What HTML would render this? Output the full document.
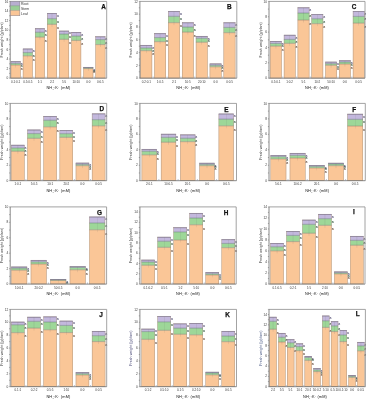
<!DOCTYPE html><html><head><meta charset="utf-8"><style>html,body{margin:0;padding:0;background:#fff;width:366px;height:400px;overflow:hidden}svg{display:block;will-change:transform}text{font-family:"Liberation Sans",sans-serif}</style></head><body>
<svg width="366" height="400" viewBox="0 0 366 400">
<rect width="366" height="400" fill="#fff"/>
<g><rect x="10.8" y="65" width="9.8" height="13.2" fill="#fac697"/><rect x="10.8" y="63.3" width="9.8" height="1.7" fill="#9dd798"/><rect x="10.8" y="61.3" width="9.8" height="2" fill="#c3b8dd"/><rect x="11" y="61.5" width="9.4" height="16.5" fill="none" stroke="#a89482" stroke-width="0.45"/><rect x="10.8" y="61.3" width="9.8" height="0.8" fill="#7f7896" opacity="0.75"/><rect x="10.8" y="62.8" width="9.8" height="1.1" fill="#6e7c82" opacity="0.5"/><rect x="10.8" y="64.5" width="9.8" height="1.1" fill="#8a7d6c" opacity="0.45"/><line x1="15.7" x2="15.7" y1="61.8" y2="67.5" stroke="#5a5a5a" stroke-width="0.35" opacity="0.35"/><text x="20.65" y="64.9" font-size="3.5" font-weight="bold" fill="#5e5a7e">a</text><text x="20.65" y="67.3" font-size="3.5" font-weight="bold" fill="#3e5e4a">a</text><text x="20.65" y="69.8" font-size="3.5" font-weight="bold" fill="#6a5040">a</text><rect x="22.9" y="55.8" width="9.8" height="22.4" fill="#fac697"/><rect x="22.9" y="52.5" width="9.8" height="3.3" fill="#9dd798"/><rect x="22.9" y="48.7" width="9.8" height="3.8" fill="#c3b8dd"/><rect x="23.1" y="48.9" width="9.4" height="29.1" fill="none" stroke="#a89482" stroke-width="0.45"/><rect x="22.9" y="48.7" width="9.8" height="0.8" fill="#7f7896" opacity="0.75"/><rect x="22.9" y="52" width="9.8" height="1.1" fill="#6e7c82" opacity="0.5"/><rect x="22.9" y="55.3" width="9.8" height="1.1" fill="#8a7d6c" opacity="0.45"/><line x1="27.8" x2="27.8" y1="49.2" y2="58.3" stroke="#5a5a5a" stroke-width="0.35" opacity="0.35"/><text x="32.75" y="52.3" font-size="3.5" font-weight="bold" fill="#5e5a7e">a</text><text x="32.75" y="56.5" font-size="3.5" font-weight="bold" fill="#3e5e4a">a</text><text x="32.75" y="60.6" font-size="3.5" font-weight="bold" fill="#6a5040">a</text><rect x="35" y="37.1" width="9.8" height="41.1" fill="#fac697"/><rect x="35" y="32.2" width="9.8" height="4.9" fill="#9dd798"/><rect x="35" y="28.4" width="9.8" height="3.8" fill="#c3b8dd"/><rect x="35.2" y="28.6" width="9.4" height="49.4" fill="none" stroke="#a89482" stroke-width="0.45"/><rect x="35" y="28.4" width="9.8" height="0.8" fill="#7f7896" opacity="0.75"/><rect x="35" y="31.7" width="9.8" height="1.1" fill="#6e7c82" opacity="0.5"/><rect x="35" y="36.6" width="9.8" height="1.1" fill="#8a7d6c" opacity="0.45"/><line x1="39.9" x2="39.9" y1="28.9" y2="39.6" stroke="#5a5a5a" stroke-width="0.35" opacity="0.35"/><text x="44.85" y="32" font-size="3.5" font-weight="bold" fill="#5e5a7e">a</text><text x="44.85" y="36.2" font-size="3.5" font-weight="bold" fill="#3e5e4a">a</text><text x="44.85" y="41.9" font-size="3.5" font-weight="bold" fill="#6a5040">a</text><rect x="47.1" y="24.3" width="9.8" height="53.9" fill="#fac697"/><rect x="47.1" y="18.6" width="9.8" height="5.7" fill="#9dd798"/><rect x="47.1" y="13.1" width="9.8" height="5.5" fill="#c3b8dd"/><rect x="47.3" y="13.3" width="9.4" height="64.7" fill="none" stroke="#a89482" stroke-width="0.45"/><rect x="47.1" y="13.1" width="9.8" height="0.8" fill="#7f7896" opacity="0.75"/><rect x="47.1" y="18.1" width="9.8" height="1.1" fill="#6e7c82" opacity="0.5"/><rect x="47.1" y="23.8" width="9.8" height="1.1" fill="#8a7d6c" opacity="0.45"/><line x1="52" x2="52" y1="13.6" y2="26.8" stroke="#5a5a5a" stroke-width="0.35" opacity="0.35"/><text x="56.95" y="16.7" font-size="3.5" font-weight="bold" fill="#5e5a7e">a</text><text x="56.95" y="22.6" font-size="3.5" font-weight="bold" fill="#3e5e4a">a</text><text x="56.95" y="29.1" font-size="3.5" font-weight="bold" fill="#6a5040">a</text><rect x="59.2" y="39.3" width="9.8" height="38.9" fill="#fac697"/><rect x="59.2" y="34" width="9.8" height="5.3" fill="#9dd798"/><rect x="59.2" y="30.8" width="9.8" height="3.2" fill="#c3b8dd"/><rect x="59.4" y="31" width="9.4" height="47" fill="none" stroke="#a89482" stroke-width="0.45"/><rect x="59.2" y="30.8" width="9.8" height="0.8" fill="#7f7896" opacity="0.75"/><rect x="59.2" y="33.5" width="9.8" height="1.1" fill="#6e7c82" opacity="0.5"/><rect x="59.2" y="38.8" width="9.8" height="1.1" fill="#8a7d6c" opacity="0.45"/><line x1="64.1" x2="64.1" y1="31.3" y2="41.8" stroke="#5a5a5a" stroke-width="0.35" opacity="0.35"/><text x="69.05" y="34.4" font-size="3.5" font-weight="bold" fill="#5e5a7e">a</text><text x="69.05" y="38" font-size="3.5" font-weight="bold" fill="#3e5e4a">a</text><text x="69.05" y="44.1" font-size="3.5" font-weight="bold" fill="#6a5040">a</text><rect x="71.3" y="40.4" width="9.8" height="37.8" fill="#fac697"/><rect x="71.3" y="36" width="9.8" height="4.4" fill="#9dd798"/><rect x="71.3" y="32.1" width="9.8" height="3.9" fill="#c3b8dd"/><rect x="71.5" y="32.3" width="9.4" height="45.7" fill="none" stroke="#a89482" stroke-width="0.45"/><rect x="71.3" y="32.1" width="9.8" height="0.8" fill="#7f7896" opacity="0.75"/><rect x="71.3" y="35.5" width="9.8" height="1.1" fill="#6e7c82" opacity="0.5"/><rect x="71.3" y="39.9" width="9.8" height="1.1" fill="#8a7d6c" opacity="0.45"/><line x1="76.2" x2="76.2" y1="32.6" y2="42.9" stroke="#5a5a5a" stroke-width="0.35" opacity="0.35"/><text x="81.15" y="35.7" font-size="3.5" font-weight="bold" fill="#5e5a7e">a</text><text x="81.15" y="40" font-size="3.5" font-weight="bold" fill="#3e5e4a">a</text><text x="81.15" y="45.2" font-size="3.5" font-weight="bold" fill="#6a5040">a</text><rect x="83.4" y="68.5" width="9.8" height="9.7" fill="#fac697"/><rect x="83.4" y="67.8" width="9.8" height="0.7" fill="#9dd798"/><rect x="83.4" y="67" width="9.8" height="0.8" fill="#c3b8dd"/><rect x="83.6" y="67.2" width="9.4" height="10.8" fill="none" stroke="#a89482" stroke-width="0.45"/><rect x="83.4" y="67" width="9.8" height="0.8" fill="#7f7896" opacity="0.75"/><rect x="83.4" y="67.3" width="9.8" height="1.1" fill="#6e7c82" opacity="0.5"/><rect x="83.4" y="68" width="9.8" height="1.1" fill="#8a7d6c" opacity="0.45"/><line x1="88.3" x2="88.3" y1="67.5" y2="71" stroke="#5a5a5a" stroke-width="0.35" opacity="0.35"/><text x="93.25" y="70.6" font-size="3.5" font-weight="bold" fill="#5e5a7e">a</text><text x="93.25" y="71.8" font-size="3.5" font-weight="bold" fill="#3e5e4a">a</text><text x="93.25" y="73.3" font-size="3.5" font-weight="bold" fill="#6a5040">a</text><rect x="95.5" y="44.5" width="9.8" height="33.7" fill="#fac697"/><rect x="95.5" y="39.5" width="9.8" height="5" fill="#9dd798"/><rect x="95.5" y="36.5" width="9.8" height="3" fill="#c3b8dd"/><rect x="95.7" y="36.7" width="9.4" height="41.3" fill="none" stroke="#a89482" stroke-width="0.45"/><rect x="95.5" y="36.5" width="9.8" height="0.8" fill="#7f7896" opacity="0.75"/><rect x="95.5" y="39" width="9.8" height="1.1" fill="#6e7c82" opacity="0.5"/><rect x="95.5" y="44" width="9.8" height="1.1" fill="#8a7d6c" opacity="0.45"/><line x1="100.4" x2="100.4" y1="37" y2="47" stroke="#5a5a5a" stroke-width="0.35" opacity="0.35"/><text x="105.35" y="40.1" font-size="3.5" font-weight="bold" fill="#5e5a7e">a</text><text x="105.35" y="43.5" font-size="3.5" font-weight="bold" fill="#3e5e4a">a</text><text x="105.35" y="49.3" font-size="3.5" font-weight="bold" fill="#6a5040">a</text><path d="M10.2,1.4H106.7V78.2" fill="none" stroke="#8c8c8c" stroke-width="0.8"/><path d="M10.2,1.4V78.2H106.7" fill="none" stroke="#6a6a6a" stroke-width="0.8"/><line x1="9.1" x2="10.2" y1="78.2" y2="78.2" stroke="#6a6a6a" stroke-width="0.5"/><text x="8.2" y="79.3" font-size="3.2" text-anchor="end" fill="#3a3a3a" font-family="Liberation Serif">0</text><line x1="9.1" x2="10.2" y1="73.4" y2="73.4" stroke="#6a6a6a" stroke-width="0.5"/><line x1="9.1" x2="10.2" y1="68.6" y2="68.6" stroke="#6a6a6a" stroke-width="0.5"/><text x="8.2" y="69.7" font-size="3.2" text-anchor="end" fill="#3a3a3a" font-family="Liberation Serif">2</text><line x1="9.1" x2="10.2" y1="63.8" y2="63.8" stroke="#6a6a6a" stroke-width="0.5"/><line x1="9.1" x2="10.2" y1="59" y2="59" stroke="#6a6a6a" stroke-width="0.5"/><text x="8.2" y="60.1" font-size="3.2" text-anchor="end" fill="#3a3a3a" font-family="Liberation Serif">4</text><line x1="9.1" x2="10.2" y1="54.2" y2="54.2" stroke="#6a6a6a" stroke-width="0.5"/><line x1="9.1" x2="10.2" y1="49.4" y2="49.4" stroke="#6a6a6a" stroke-width="0.5"/><text x="8.2" y="50.5" font-size="3.2" text-anchor="end" fill="#3a3a3a" font-family="Liberation Serif">6</text><line x1="9.1" x2="10.2" y1="44.6" y2="44.6" stroke="#6a6a6a" stroke-width="0.5"/><line x1="9.1" x2="10.2" y1="39.8" y2="39.8" stroke="#6a6a6a" stroke-width="0.5"/><text x="8.2" y="40.9" font-size="3.2" text-anchor="end" fill="#3a3a3a" font-family="Liberation Serif">8</text><line x1="9.1" x2="10.2" y1="35" y2="35" stroke="#6a6a6a" stroke-width="0.5"/><line x1="9.1" x2="10.2" y1="30.2" y2="30.2" stroke="#6a6a6a" stroke-width="0.5"/><text x="8.2" y="31.3" font-size="3.2" text-anchor="end" fill="#3a3a3a" font-family="Liberation Serif">10</text><line x1="9.1" x2="10.2" y1="25.4" y2="25.4" stroke="#6a6a6a" stroke-width="0.5"/><line x1="9.1" x2="10.2" y1="20.6" y2="20.6" stroke="#6a6a6a" stroke-width="0.5"/><text x="8.2" y="21.7" font-size="3.2" text-anchor="end" fill="#3a3a3a" font-family="Liberation Serif">12</text><line x1="9.1" x2="10.2" y1="15.8" y2="15.8" stroke="#6a6a6a" stroke-width="0.5"/><line x1="9.1" x2="10.2" y1="11" y2="11" stroke="#6a6a6a" stroke-width="0.5"/><text x="8.2" y="12.1" font-size="3.2" text-anchor="end" fill="#3a3a3a" font-family="Liberation Serif">14</text><line x1="9.1" x2="10.2" y1="6.2" y2="6.2" stroke="#6a6a6a" stroke-width="0.5"/><line x1="9.1" x2="10.2" y1="1.4" y2="1.4" stroke="#6a6a6a" stroke-width="0.5"/><text x="8.2" y="2.5" font-size="3.2" text-anchor="end" fill="#3a3a3a" font-family="Liberation Serif">16</text><line x1="21.75" x2="21.75" y1="76.6" y2="78.2" stroke="#8a96a8" stroke-width="0.6"/><line x1="33.85" x2="33.85" y1="76.6" y2="78.2" stroke="#8a96a8" stroke-width="0.6"/><line x1="45.95" x2="45.95" y1="76.6" y2="78.2" stroke="#8a96a8" stroke-width="0.6"/><line x1="58.05" x2="58.05" y1="76.6" y2="78.2" stroke="#8a96a8" stroke-width="0.6"/><line x1="70.15" x2="70.15" y1="76.6" y2="78.2" stroke="#8a96a8" stroke-width="0.6"/><line x1="82.25" x2="82.25" y1="76.6" y2="78.2" stroke="#8a96a8" stroke-width="0.6"/><line x1="94.35" x2="94.35" y1="76.6" y2="78.2" stroke="#8a96a8" stroke-width="0.6"/><text x="15.7" y="82.8" font-size="3" text-anchor="middle" fill="#333" font-family="Liberation Serif">0.1:0.1</text><text x="27.8" y="82.8" font-size="3" text-anchor="middle" fill="#333" font-family="Liberation Serif">0.5:0.5</text><text x="39.9" y="82.8" font-size="3" text-anchor="middle" fill="#333" font-family="Liberation Serif">1:1</text><text x="52" y="82.8" font-size="3" text-anchor="middle" fill="#333" font-family="Liberation Serif">2:2</text><text x="64.1" y="82.8" font-size="3" text-anchor="middle" fill="#333" font-family="Liberation Serif">5:5</text><text x="76.2" y="82.8" font-size="3" text-anchor="middle" fill="#333" font-family="Liberation Serif">10:10</text><text x="88.3" y="82.8" font-size="3" text-anchor="middle" fill="#333" font-family="Liberation Serif">0:0</text><text x="100.4" y="82.8" font-size="3" text-anchor="middle" fill="#333" font-family="Liberation Serif">0:0.5</text><text x="58.45" y="89.4" font-size="3.9" text-anchor="middle" fill="#222" letter-spacing="0.12" font-family="Liberation Serif">NH<tspan font-size="2.5" dy="0.9">4</tspan><tspan font-size="2.5" dx="-1.25" dy="-2.3">+</tspan><tspan dy="1.4">:K</tspan><tspan font-size="2.5" dy="-1.4">+</tspan><tspan dy="1.4"> (mM)</tspan></text><text transform="translate(2.7,39.8) rotate(-90)" font-size="3.65" text-anchor="middle" fill="#3a3a3a" font-family="Liberation Serif">Fresh weight (g/plant)</text><text x="103.5" y="9" font-size="6.4" font-weight="bold" text-anchor="middle" fill="#111" stroke="#111" stroke-width="0.25">A</text></g>
<g><rect x="140.4" y="50.6" width="11.7" height="27.6" fill="#fac697"/><rect x="140.4" y="47.9" width="11.7" height="2.7" fill="#9dd798"/><rect x="140.4" y="45" width="11.7" height="2.9" fill="#c3b8dd"/><rect x="140.6" y="45.2" width="11.3" height="32.8" fill="none" stroke="#a89482" stroke-width="0.45"/><rect x="140.4" y="45" width="11.7" height="0.8" fill="#7f7896" opacity="0.75"/><rect x="140.4" y="47.4" width="11.7" height="1.1" fill="#6e7c82" opacity="0.5"/><rect x="140.4" y="50.1" width="11.7" height="1.1" fill="#8a7d6c" opacity="0.45"/><line x1="146.25" x2="146.25" y1="45.5" y2="53.1" stroke="#5a5a5a" stroke-width="0.35" opacity="0.35"/><text x="152.15" y="48.6" font-size="3.5" font-weight="bold" fill="#5e5a7e">a</text><text x="152.15" y="51.9" font-size="3.5" font-weight="bold" fill="#3e5e4a">a</text><text x="152.15" y="55.4" font-size="3.5" font-weight="bold" fill="#6a5040">a</text><rect x="154.27" y="41.6" width="11.7" height="36.6" fill="#fac697"/><rect x="154.27" y="37.5" width="11.7" height="4.1" fill="#9dd798"/><rect x="154.27" y="33.3" width="11.7" height="4.2" fill="#c3b8dd"/><rect x="154.47" y="33.5" width="11.3" height="44.5" fill="none" stroke="#a89482" stroke-width="0.45"/><rect x="154.27" y="33.3" width="11.7" height="0.8" fill="#7f7896" opacity="0.75"/><rect x="154.27" y="37" width="11.7" height="1.1" fill="#6e7c82" opacity="0.5"/><rect x="154.27" y="41.1" width="11.7" height="1.1" fill="#8a7d6c" opacity="0.45"/><line x1="160.12" x2="160.12" y1="33.8" y2="44.1" stroke="#5a5a5a" stroke-width="0.35" opacity="0.35"/><text x="166.02" y="36.9" font-size="3.5" font-weight="bold" fill="#5e5a7e">a</text><text x="166.02" y="41.5" font-size="3.5" font-weight="bold" fill="#3e5e4a">a</text><text x="166.02" y="46.4" font-size="3.5" font-weight="bold" fill="#6a5040">a</text><rect x="168.14" y="22.6" width="11.7" height="55.6" fill="#fac697"/><rect x="168.14" y="16.3" width="11.7" height="6.3" fill="#9dd798"/><rect x="168.14" y="11.2" width="11.7" height="5.1" fill="#c3b8dd"/><rect x="168.34" y="11.4" width="11.3" height="66.6" fill="none" stroke="#a89482" stroke-width="0.45"/><rect x="168.14" y="11.2" width="11.7" height="0.8" fill="#7f7896" opacity="0.75"/><rect x="168.14" y="15.8" width="11.7" height="1.1" fill="#6e7c82" opacity="0.5"/><rect x="168.14" y="22.1" width="11.7" height="1.1" fill="#8a7d6c" opacity="0.45"/><line x1="173.99" x2="173.99" y1="11.7" y2="25.1" stroke="#5a5a5a" stroke-width="0.35" opacity="0.35"/><text x="179.89" y="14.8" font-size="3.5" font-weight="bold" fill="#5e5a7e">a</text><text x="179.89" y="20.3" font-size="3.5" font-weight="bold" fill="#3e5e4a">a</text><text x="179.89" y="27.4" font-size="3.5" font-weight="bold" fill="#6a5040">a</text><rect x="182.01" y="32.1" width="11.7" height="46.1" fill="#fac697"/><rect x="182.01" y="27" width="11.7" height="5.1" fill="#9dd798"/><rect x="182.01" y="22.5" width="11.7" height="4.5" fill="#c3b8dd"/><rect x="182.21" y="22.7" width="11.3" height="55.3" fill="none" stroke="#a89482" stroke-width="0.45"/><rect x="182.01" y="22.5" width="11.7" height="0.8" fill="#7f7896" opacity="0.75"/><rect x="182.01" y="26.5" width="11.7" height="1.1" fill="#6e7c82" opacity="0.5"/><rect x="182.01" y="31.6" width="11.7" height="1.1" fill="#8a7d6c" opacity="0.45"/><line x1="187.86" x2="187.86" y1="23" y2="34.6" stroke="#5a5a5a" stroke-width="0.35" opacity="0.35"/><text x="193.76" y="26.1" font-size="3.5" font-weight="bold" fill="#5e5a7e">a</text><text x="193.76" y="31" font-size="3.5" font-weight="bold" fill="#3e5e4a">a</text><text x="193.76" y="36.9" font-size="3.5" font-weight="bold" fill="#6a5040">a</text><rect x="195.88" y="42.2" width="11.7" height="36" fill="#fac697"/><rect x="195.88" y="38.2" width="11.7" height="4" fill="#9dd798"/><rect x="195.88" y="36" width="11.7" height="2.2" fill="#c3b8dd"/><rect x="196.08" y="36.2" width="11.3" height="41.8" fill="none" stroke="#a89482" stroke-width="0.45"/><rect x="195.88" y="36" width="11.7" height="0.8" fill="#7f7896" opacity="0.75"/><rect x="195.88" y="37.7" width="11.7" height="1.1" fill="#6e7c82" opacity="0.5"/><rect x="195.88" y="41.7" width="11.7" height="1.1" fill="#8a7d6c" opacity="0.45"/><line x1="201.73" x2="201.73" y1="36.5" y2="44.7" stroke="#5a5a5a" stroke-width="0.35" opacity="0.35"/><text x="207.63" y="39.6" font-size="3.5" font-weight="bold" fill="#5e5a7e">a</text><text x="207.63" y="42.2" font-size="3.5" font-weight="bold" fill="#3e5e4a">a</text><text x="207.63" y="47" font-size="3.5" font-weight="bold" fill="#6a5040">a</text><rect x="209.75" y="66.7" width="11.7" height="11.5" fill="#fac697"/><rect x="209.75" y="65.2" width="11.7" height="1.5" fill="#9dd798"/><rect x="209.75" y="63.6" width="11.7" height="1.6" fill="#c3b8dd"/><rect x="209.95" y="63.8" width="11.3" height="14.2" fill="none" stroke="#a89482" stroke-width="0.45"/><rect x="209.75" y="63.6" width="11.7" height="0.8" fill="#7f7896" opacity="0.75"/><rect x="209.75" y="64.7" width="11.7" height="1.1" fill="#6e7c82" opacity="0.5"/><rect x="209.75" y="66.2" width="11.7" height="1.1" fill="#8a7d6c" opacity="0.45"/><line x1="215.6" x2="215.6" y1="64.1" y2="69.2" stroke="#5a5a5a" stroke-width="0.35" opacity="0.35"/><text x="221.5" y="67.2" font-size="3.5" font-weight="bold" fill="#5e5a7e">a</text><text x="221.5" y="69.2" font-size="3.5" font-weight="bold" fill="#3e5e4a">a</text><text x="221.5" y="71.5" font-size="3.5" font-weight="bold" fill="#6a5040">a</text><rect x="223.62" y="32.6" width="11.7" height="45.6" fill="#fac697"/><rect x="223.62" y="27.4" width="11.7" height="5.2" fill="#9dd798"/><rect x="223.62" y="22.5" width="11.7" height="4.9" fill="#c3b8dd"/><rect x="223.82" y="22.7" width="11.3" height="55.3" fill="none" stroke="#a89482" stroke-width="0.45"/><rect x="223.62" y="22.5" width="11.7" height="0.8" fill="#7f7896" opacity="0.75"/><rect x="223.62" y="26.9" width="11.7" height="1.1" fill="#6e7c82" opacity="0.5"/><rect x="223.62" y="32.1" width="11.7" height="1.1" fill="#8a7d6c" opacity="0.45"/><line x1="229.47" x2="229.47" y1="23" y2="35.1" stroke="#5a5a5a" stroke-width="0.35" opacity="0.35"/><text x="235.37" y="26.1" font-size="3.5" font-weight="bold" fill="#5e5a7e">a</text><text x="235.37" y="31.4" font-size="3.5" font-weight="bold" fill="#3e5e4a">a</text><text x="235.37" y="37.4" font-size="3.5" font-weight="bold" fill="#6a5040">a</text><path d="M139.9,1.4H236.8V78.2" fill="none" stroke="#8c8c8c" stroke-width="0.8"/><path d="M139.9,1.4V78.2H236.8" fill="none" stroke="#6a6a6a" stroke-width="0.8"/><line x1="138.8" x2="139.9" y1="78.2" y2="78.2" stroke="#6a6a6a" stroke-width="0.5"/><text x="137.9" y="79.3" font-size="3.2" text-anchor="end" fill="#3a3a3a" font-family="Liberation Serif">0</text><line x1="138.8" x2="139.9" y1="71.8" y2="71.8" stroke="#6a6a6a" stroke-width="0.5"/><line x1="138.8" x2="139.9" y1="65.4" y2="65.4" stroke="#6a6a6a" stroke-width="0.5"/><text x="137.9" y="66.5" font-size="3.2" text-anchor="end" fill="#3a3a3a" font-family="Liberation Serif">2</text><line x1="138.8" x2="139.9" y1="59" y2="59" stroke="#6a6a6a" stroke-width="0.5"/><line x1="138.8" x2="139.9" y1="52.6" y2="52.6" stroke="#6a6a6a" stroke-width="0.5"/><text x="137.9" y="53.7" font-size="3.2" text-anchor="end" fill="#3a3a3a" font-family="Liberation Serif">4</text><line x1="138.8" x2="139.9" y1="46.2" y2="46.2" stroke="#6a6a6a" stroke-width="0.5"/><line x1="138.8" x2="139.9" y1="39.8" y2="39.8" stroke="#6a6a6a" stroke-width="0.5"/><text x="137.9" y="40.9" font-size="3.2" text-anchor="end" fill="#3a3a3a" font-family="Liberation Serif">6</text><line x1="138.8" x2="139.9" y1="33.4" y2="33.4" stroke="#6a6a6a" stroke-width="0.5"/><line x1="138.8" x2="139.9" y1="27" y2="27" stroke="#6a6a6a" stroke-width="0.5"/><text x="137.9" y="28.1" font-size="3.2" text-anchor="end" fill="#3a3a3a" font-family="Liberation Serif">8</text><line x1="138.8" x2="139.9" y1="20.6" y2="20.6" stroke="#6a6a6a" stroke-width="0.5"/><line x1="138.8" x2="139.9" y1="14.2" y2="14.2" stroke="#6a6a6a" stroke-width="0.5"/><text x="137.9" y="15.3" font-size="3.2" text-anchor="end" fill="#3a3a3a" font-family="Liberation Serif">10</text><line x1="138.8" x2="139.9" y1="7.8" y2="7.8" stroke="#6a6a6a" stroke-width="0.5"/><line x1="138.8" x2="139.9" y1="1.4" y2="1.4" stroke="#6a6a6a" stroke-width="0.5"/><text x="137.9" y="2.5" font-size="3.2" text-anchor="end" fill="#3a3a3a" font-family="Liberation Serif">12</text><line x1="153.19" x2="153.19" y1="76.6" y2="78.2" stroke="#8a96a8" stroke-width="0.6"/><line x1="167.06" x2="167.06" y1="76.6" y2="78.2" stroke="#8a96a8" stroke-width="0.6"/><line x1="180.93" x2="180.93" y1="76.6" y2="78.2" stroke="#8a96a8" stroke-width="0.6"/><line x1="194.79" x2="194.79" y1="76.6" y2="78.2" stroke="#8a96a8" stroke-width="0.6"/><line x1="208.66" x2="208.66" y1="76.6" y2="78.2" stroke="#8a96a8" stroke-width="0.6"/><line x1="222.53" x2="222.53" y1="76.6" y2="78.2" stroke="#8a96a8" stroke-width="0.6"/><text x="146.25" y="82.8" font-size="3" text-anchor="middle" fill="#333" font-family="Liberation Serif">0.2:0.1</text><text x="160.12" y="82.8" font-size="3" text-anchor="middle" fill="#333" font-family="Liberation Serif">1:0.5</text><text x="173.99" y="82.8" font-size="3" text-anchor="middle" fill="#333" font-family="Liberation Serif">2:1</text><text x="187.86" y="82.8" font-size="3" text-anchor="middle" fill="#333" font-family="Liberation Serif">10:5</text><text x="201.73" y="82.8" font-size="3" text-anchor="middle" fill="#333" font-family="Liberation Serif">20:10</text><text x="215.6" y="82.8" font-size="3" text-anchor="middle" fill="#333" font-family="Liberation Serif">0:0</text><text x="229.47" y="82.8" font-size="3" text-anchor="middle" fill="#333" font-family="Liberation Serif">0:0.5</text><text x="188.35" y="89.4" font-size="3.9" text-anchor="middle" fill="#222" letter-spacing="0.12" font-family="Liberation Serif">NH<tspan font-size="2.5" dy="0.9">4</tspan><tspan font-size="2.5" dx="-1.25" dy="-2.3">+</tspan><tspan dy="1.4">:K</tspan><tspan font-size="2.5" dy="-1.4">+</tspan><tspan dy="1.4"> (mM)</tspan></text><text transform="translate(132.4,39.8) rotate(-90)" font-size="3.65" text-anchor="middle" fill="#3a3a3a" font-family="Liberation Serif">Fresh weight (g/plant)</text><text x="229.2" y="9" font-size="6.4" font-weight="bold" text-anchor="middle" fill="#111" stroke="#111" stroke-width="0.25">B</text></g>
<g><rect x="270.1" y="46.1" width="11.6" height="32.1" fill="#fac697"/><rect x="270.1" y="43.4" width="11.6" height="2.7" fill="#9dd798"/><rect x="270.1" y="41.1" width="11.6" height="2.3" fill="#c3b8dd"/><rect x="270.3" y="41.3" width="11.2" height="36.7" fill="none" stroke="#a89482" stroke-width="0.45"/><rect x="270.1" y="41.1" width="11.6" height="0.8" fill="#7f7896" opacity="0.75"/><rect x="270.1" y="42.9" width="11.6" height="1.1" fill="#6e7c82" opacity="0.5"/><rect x="270.1" y="45.6" width="11.6" height="1.1" fill="#8a7d6c" opacity="0.45"/><line x1="275.9" x2="275.9" y1="41.6" y2="48.6" stroke="#5a5a5a" stroke-width="0.35" opacity="0.35"/><text x="281.75" y="44.7" font-size="3.5" font-weight="bold" fill="#5e5a7e">a</text><text x="281.75" y="47.4" font-size="3.5" font-weight="bold" fill="#3e5e4a">a</text><text x="281.75" y="50.9" font-size="3.5" font-weight="bold" fill="#6a5040">a</text><rect x="283.9" y="43.3" width="11.6" height="34.9" fill="#fac697"/><rect x="283.9" y="39.4" width="11.6" height="3.9" fill="#9dd798"/><rect x="283.9" y="34.9" width="11.6" height="4.5" fill="#c3b8dd"/><rect x="284.1" y="35.1" width="11.2" height="42.9" fill="none" stroke="#a89482" stroke-width="0.45"/><rect x="283.9" y="34.9" width="11.6" height="0.8" fill="#7f7896" opacity="0.75"/><rect x="283.9" y="38.9" width="11.6" height="1.1" fill="#6e7c82" opacity="0.5"/><rect x="283.9" y="42.8" width="11.6" height="1.1" fill="#8a7d6c" opacity="0.45"/><line x1="289.7" x2="289.7" y1="35.4" y2="45.8" stroke="#5a5a5a" stroke-width="0.35" opacity="0.35"/><text x="295.55" y="38.5" font-size="3.5" font-weight="bold" fill="#5e5a7e">a</text><text x="295.55" y="43.4" font-size="3.5" font-weight="bold" fill="#3e5e4a">a</text><text x="295.55" y="48.1" font-size="3.5" font-weight="bold" fill="#6a5040">a</text><rect x="297.7" y="20" width="11.6" height="58.2" fill="#fac697"/><rect x="297.7" y="13" width="11.6" height="7" fill="#9dd798"/><rect x="297.7" y="7.5" width="11.6" height="5.5" fill="#c3b8dd"/><rect x="297.9" y="7.7" width="11.2" height="70.3" fill="none" stroke="#a89482" stroke-width="0.45"/><rect x="297.7" y="7.5" width="11.6" height="0.8" fill="#7f7896" opacity="0.75"/><rect x="297.7" y="12.5" width="11.6" height="1.1" fill="#6e7c82" opacity="0.5"/><rect x="297.7" y="19.5" width="11.6" height="1.1" fill="#8a7d6c" opacity="0.45"/><line x1="303.5" x2="303.5" y1="8" y2="22.5" stroke="#5a5a5a" stroke-width="0.35" opacity="0.35"/><text x="309.35" y="11.1" font-size="3.5" font-weight="bold" fill="#5e5a7e">a</text><text x="309.35" y="17" font-size="3.5" font-weight="bold" fill="#3e5e4a">a</text><text x="309.35" y="24.8" font-size="3.5" font-weight="bold" fill="#6a5040">a</text><rect x="311.5" y="23.6" width="11.6" height="54.6" fill="#fac697"/><rect x="311.5" y="18.7" width="11.6" height="4.9" fill="#9dd798"/><rect x="311.5" y="14.2" width="11.6" height="4.5" fill="#c3b8dd"/><rect x="311.7" y="14.4" width="11.2" height="63.6" fill="none" stroke="#a89482" stroke-width="0.45"/><rect x="311.5" y="14.2" width="11.6" height="0.8" fill="#7f7896" opacity="0.75"/><rect x="311.5" y="18.2" width="11.6" height="1.1" fill="#6e7c82" opacity="0.5"/><rect x="311.5" y="23.1" width="11.6" height="1.1" fill="#8a7d6c" opacity="0.45"/><line x1="317.3" x2="317.3" y1="14.7" y2="26.1" stroke="#5a5a5a" stroke-width="0.35" opacity="0.35"/><text x="323.15" y="17.8" font-size="3.5" font-weight="bold" fill="#5e5a7e">a</text><text x="323.15" y="22.7" font-size="3.5" font-weight="bold" fill="#3e5e4a">a</text><text x="323.15" y="28.4" font-size="3.5" font-weight="bold" fill="#6a5040">a</text><rect x="325.3" y="65.2" width="11.6" height="13" fill="#fac697"/><rect x="325.3" y="63.6" width="11.6" height="1.6" fill="#9dd798"/><rect x="325.3" y="61.8" width="11.6" height="1.8" fill="#c3b8dd"/><rect x="325.5" y="62" width="11.2" height="16" fill="none" stroke="#a89482" stroke-width="0.45"/><rect x="325.3" y="61.8" width="11.6" height="0.8" fill="#7f7896" opacity="0.75"/><rect x="325.3" y="63.1" width="11.6" height="1.1" fill="#6e7c82" opacity="0.5"/><rect x="325.3" y="64.7" width="11.6" height="1.1" fill="#8a7d6c" opacity="0.45"/><line x1="331.1" x2="331.1" y1="62.3" y2="67.7" stroke="#5a5a5a" stroke-width="0.35" opacity="0.35"/><text x="336.95" y="65.4" font-size="3.5" font-weight="bold" fill="#5e5a7e">a</text><text x="336.95" y="67.6" font-size="3.5" font-weight="bold" fill="#3e5e4a">a</text><text x="336.95" y="70" font-size="3.5" font-weight="bold" fill="#6a5040">a</text><rect x="339.1" y="64" width="11.6" height="14.2" fill="#fac697"/><rect x="339.1" y="62" width="11.6" height="2" fill="#9dd798"/><rect x="339.1" y="60.4" width="11.6" height="1.6" fill="#c3b8dd"/><rect x="339.3" y="60.6" width="11.2" height="17.4" fill="none" stroke="#a89482" stroke-width="0.45"/><rect x="339.1" y="60.4" width="11.6" height="0.8" fill="#7f7896" opacity="0.75"/><rect x="339.1" y="61.5" width="11.6" height="1.1" fill="#6e7c82" opacity="0.5"/><rect x="339.1" y="63.5" width="11.6" height="1.1" fill="#8a7d6c" opacity="0.45"/><line x1="344.9" x2="344.9" y1="60.9" y2="66.5" stroke="#5a5a5a" stroke-width="0.35" opacity="0.35"/><text x="350.75" y="64" font-size="3.5" font-weight="bold" fill="#5e5a7e">a</text><text x="350.75" y="66" font-size="3.5" font-weight="bold" fill="#3e5e4a">a</text><text x="350.75" y="68.8" font-size="3.5" font-weight="bold" fill="#6a5040">a</text><rect x="352.9" y="23.1" width="11.6" height="55.1" fill="#fac697"/><rect x="352.9" y="16.4" width="11.6" height="6.7" fill="#9dd798"/><rect x="352.9" y="11.2" width="11.6" height="5.2" fill="#c3b8dd"/><rect x="353.1" y="11.4" width="11.2" height="66.6" fill="none" stroke="#a89482" stroke-width="0.45"/><rect x="352.9" y="11.2" width="11.6" height="0.8" fill="#7f7896" opacity="0.75"/><rect x="352.9" y="15.9" width="11.6" height="1.1" fill="#6e7c82" opacity="0.5"/><rect x="352.9" y="22.6" width="11.6" height="1.1" fill="#8a7d6c" opacity="0.45"/><line x1="358.7" x2="358.7" y1="11.7" y2="25.6" stroke="#5a5a5a" stroke-width="0.35" opacity="0.35"/><text x="364.55" y="14.8" font-size="3.5" font-weight="bold" fill="#5e5a7e">a</text><text x="364.55" y="20.4" font-size="3.5" font-weight="bold" fill="#3e5e4a">a</text><text x="364.55" y="27.9" font-size="3.5" font-weight="bold" fill="#6a5040">a</text><path d="M269,1.4H365V78.2" fill="none" stroke="#8c8c8c" stroke-width="0.8"/><path d="M269,1.4V78.2H365" fill="none" stroke="#6a6a6a" stroke-width="0.8"/><line x1="267.9" x2="269" y1="78.2" y2="78.2" stroke="#6a6a6a" stroke-width="0.5"/><text x="267" y="79.3" font-size="3.2" text-anchor="end" fill="#3a3a3a" font-family="Liberation Serif">0</text><line x1="267.9" x2="269" y1="70.52" y2="70.52" stroke="#6a6a6a" stroke-width="0.5"/><line x1="267.9" x2="269" y1="62.84" y2="62.84" stroke="#6a6a6a" stroke-width="0.5"/><text x="267" y="63.94" font-size="3.2" text-anchor="end" fill="#3a3a3a" font-family="Liberation Serif">2</text><line x1="267.9" x2="269" y1="55.16" y2="55.16" stroke="#6a6a6a" stroke-width="0.5"/><line x1="267.9" x2="269" y1="47.48" y2="47.48" stroke="#6a6a6a" stroke-width="0.5"/><text x="267" y="48.58" font-size="3.2" text-anchor="end" fill="#3a3a3a" font-family="Liberation Serif">4</text><line x1="267.9" x2="269" y1="39.8" y2="39.8" stroke="#6a6a6a" stroke-width="0.5"/><line x1="267.9" x2="269" y1="32.12" y2="32.12" stroke="#6a6a6a" stroke-width="0.5"/><text x="267" y="33.22" font-size="3.2" text-anchor="end" fill="#3a3a3a" font-family="Liberation Serif">6</text><line x1="267.9" x2="269" y1="24.44" y2="24.44" stroke="#6a6a6a" stroke-width="0.5"/><line x1="267.9" x2="269" y1="16.76" y2="16.76" stroke="#6a6a6a" stroke-width="0.5"/><text x="267" y="17.86" font-size="3.2" text-anchor="end" fill="#3a3a3a" font-family="Liberation Serif">8</text><line x1="267.9" x2="269" y1="9.08" y2="9.08" stroke="#6a6a6a" stroke-width="0.5"/><line x1="267.9" x2="269" y1="1.4" y2="1.4" stroke="#6a6a6a" stroke-width="0.5"/><text x="267" y="2.5" font-size="3.2" text-anchor="end" fill="#3a3a3a" font-family="Liberation Serif">10</text><line x1="282.8" x2="282.8" y1="76.6" y2="78.2" stroke="#8a96a8" stroke-width="0.6"/><line x1="296.6" x2="296.6" y1="76.6" y2="78.2" stroke="#8a96a8" stroke-width="0.6"/><line x1="310.4" x2="310.4" y1="76.6" y2="78.2" stroke="#8a96a8" stroke-width="0.6"/><line x1="324.2" x2="324.2" y1="76.6" y2="78.2" stroke="#8a96a8" stroke-width="0.6"/><line x1="338" x2="338" y1="76.6" y2="78.2" stroke="#8a96a8" stroke-width="0.6"/><line x1="351.8" x2="351.8" y1="76.6" y2="78.2" stroke="#8a96a8" stroke-width="0.6"/><text x="275.9" y="82.8" font-size="3" text-anchor="middle" fill="#333" font-family="Liberation Serif">0.5:0.1</text><text x="289.7" y="82.8" font-size="3" text-anchor="middle" fill="#333" font-family="Liberation Serif">1:0.2</text><text x="303.5" y="82.8" font-size="3" text-anchor="middle" fill="#333" font-family="Liberation Serif">5:1</text><text x="317.3" y="82.8" font-size="3" text-anchor="middle" fill="#333" font-family="Liberation Serif">10:2</text><text x="331.1" y="82.8" font-size="3" text-anchor="middle" fill="#333" font-family="Liberation Serif">50:10</text><text x="344.9" y="82.8" font-size="3" text-anchor="middle" fill="#333" font-family="Liberation Serif">0:0</text><text x="358.7" y="82.8" font-size="3" text-anchor="middle" fill="#333" font-family="Liberation Serif">0:0.5</text><text x="317" y="89.4" font-size="3.9" text-anchor="middle" fill="#222" letter-spacing="0.12" font-family="Liberation Serif">NH<tspan font-size="2.5" dy="0.9">4</tspan><tspan font-size="2.5" dx="-1.25" dy="-2.3">+</tspan><tspan dy="1.4">:K</tspan><tspan font-size="2.5" dy="-1.4">+</tspan><tspan dy="1.4"> (mM)</tspan></text><text transform="translate(261.5,39.8) rotate(-90)" font-size="3.65" text-anchor="middle" fill="#3a3a3a" font-family="Liberation Serif">Fresh weight (g/plant)</text><text x="354" y="8.6" font-size="6.4" font-weight="bold" text-anchor="middle" fill="#111" stroke="#111" stroke-width="0.25">C</text></g>
<g><rect x="11.2" y="151.2" width="13.3" height="29.5" fill="#fac697"/><rect x="11.2" y="147.9" width="13.3" height="3.3" fill="#9dd798"/><rect x="11.2" y="144.9" width="13.3" height="3" fill="#c3b8dd"/><rect x="11.4" y="145.1" width="12.9" height="35.4" fill="none" stroke="#a89482" stroke-width="0.45"/><rect x="11.2" y="144.9" width="13.3" height="0.8" fill="#7f7896" opacity="0.75"/><rect x="11.2" y="147.4" width="13.3" height="1.1" fill="#6e7c82" opacity="0.5"/><rect x="11.2" y="150.7" width="13.3" height="1.1" fill="#8a7d6c" opacity="0.45"/><line x1="17.85" x2="17.85" y1="145.4" y2="153.7" stroke="#5a5a5a" stroke-width="0.35" opacity="0.35"/><text x="24.55" y="148.5" font-size="3.5" font-weight="bold" fill="#5e5a7e">a</text><text x="24.55" y="151.9" font-size="3.5" font-weight="bold" fill="#3e5e4a">a</text><text x="24.55" y="156" font-size="3.5" font-weight="bold" fill="#6a5040">a</text><rect x="27.35" y="138.3" width="13.3" height="42.4" fill="#fac697"/><rect x="27.35" y="133.5" width="13.3" height="4.8" fill="#9dd798"/><rect x="27.35" y="129.7" width="13.3" height="3.8" fill="#c3b8dd"/><rect x="27.55" y="129.9" width="12.9" height="50.6" fill="none" stroke="#a89482" stroke-width="0.45"/><rect x="27.35" y="129.7" width="13.3" height="0.8" fill="#7f7896" opacity="0.75"/><rect x="27.35" y="133" width="13.3" height="1.1" fill="#6e7c82" opacity="0.5"/><rect x="27.35" y="137.8" width="13.3" height="1.1" fill="#8a7d6c" opacity="0.45"/><line x1="34" x2="34" y1="130.2" y2="140.8" stroke="#5a5a5a" stroke-width="0.35" opacity="0.35"/><text x="40.7" y="133.3" font-size="3.5" font-weight="bold" fill="#5e5a7e">a</text><text x="40.7" y="137.5" font-size="3.5" font-weight="bold" fill="#3e5e4a">a</text><text x="40.7" y="143.1" font-size="3.5" font-weight="bold" fill="#6a5040">a</text><rect x="43.5" y="126.8" width="13.3" height="53.9" fill="#fac697"/><rect x="43.5" y="120.2" width="13.3" height="6.6" fill="#9dd798"/><rect x="43.5" y="116.2" width="13.3" height="4" fill="#c3b8dd"/><rect x="43.7" y="116.4" width="12.9" height="64.1" fill="none" stroke="#a89482" stroke-width="0.45"/><rect x="43.5" y="116.2" width="13.3" height="0.8" fill="#7f7896" opacity="0.75"/><rect x="43.5" y="119.7" width="13.3" height="1.1" fill="#6e7c82" opacity="0.5"/><rect x="43.5" y="126.3" width="13.3" height="1.1" fill="#8a7d6c" opacity="0.45"/><line x1="50.15" x2="50.15" y1="116.7" y2="129.3" stroke="#5a5a5a" stroke-width="0.35" opacity="0.35"/><text x="56.85" y="119.8" font-size="3.5" font-weight="bold" fill="#5e5a7e">a</text><text x="56.85" y="124.2" font-size="3.5" font-weight="bold" fill="#3e5e4a">a</text><text x="56.85" y="131.6" font-size="3.5" font-weight="bold" fill="#6a5040">a</text><rect x="59.65" y="137.3" width="13.3" height="43.4" fill="#fac697"/><rect x="59.65" y="133.6" width="13.3" height="3.7" fill="#9dd798"/><rect x="59.65" y="130.2" width="13.3" height="3.4" fill="#c3b8dd"/><rect x="59.85" y="130.4" width="12.9" height="50.1" fill="none" stroke="#a89482" stroke-width="0.45"/><rect x="59.65" y="130.2" width="13.3" height="0.8" fill="#7f7896" opacity="0.75"/><rect x="59.65" y="133.1" width="13.3" height="1.1" fill="#6e7c82" opacity="0.5"/><rect x="59.65" y="136.8" width="13.3" height="1.1" fill="#8a7d6c" opacity="0.45"/><line x1="66.3" x2="66.3" y1="130.7" y2="139.8" stroke="#5a5a5a" stroke-width="0.35" opacity="0.35"/><text x="73" y="133.8" font-size="3.5" font-weight="bold" fill="#5e5a7e">a</text><text x="73" y="137.6" font-size="3.5" font-weight="bold" fill="#3e5e4a">a</text><text x="73" y="142.1" font-size="3.5" font-weight="bold" fill="#6a5040">a</text><rect x="75.8" y="165.6" width="13.3" height="15.1" fill="#fac697"/><rect x="75.8" y="164.3" width="13.3" height="1.3" fill="#9dd798"/><rect x="75.8" y="162.8" width="13.3" height="1.5" fill="#c3b8dd"/><rect x="76" y="163" width="12.9" height="17.5" fill="none" stroke="#a89482" stroke-width="0.45"/><rect x="75.8" y="162.8" width="13.3" height="0.8" fill="#7f7896" opacity="0.75"/><rect x="75.8" y="163.8" width="13.3" height="1.1" fill="#6e7c82" opacity="0.5"/><rect x="75.8" y="165.1" width="13.3" height="1.1" fill="#8a7d6c" opacity="0.45"/><line x1="82.45" x2="82.45" y1="163.3" y2="168.1" stroke="#5a5a5a" stroke-width="0.35" opacity="0.35"/><text x="89.15" y="166.4" font-size="3.5" font-weight="bold" fill="#5e5a7e">a</text><text x="89.15" y="168.3" font-size="3.5" font-weight="bold" fill="#3e5e4a">a</text><text x="89.15" y="170.4" font-size="3.5" font-weight="bold" fill="#6a5040">a</text><rect x="91.95" y="125.8" width="13.3" height="54.9" fill="#fac697"/><rect x="91.95" y="119.6" width="13.3" height="6.2" fill="#9dd798"/><rect x="91.95" y="113.6" width="13.3" height="6" fill="#c3b8dd"/><rect x="92.15" y="113.8" width="12.9" height="66.7" fill="none" stroke="#a89482" stroke-width="0.45"/><rect x="91.95" y="113.6" width="13.3" height="0.8" fill="#7f7896" opacity="0.75"/><rect x="91.95" y="119.1" width="13.3" height="1.1" fill="#6e7c82" opacity="0.5"/><rect x="91.95" y="125.3" width="13.3" height="1.1" fill="#8a7d6c" opacity="0.45"/><line x1="98.6" x2="98.6" y1="114.1" y2="128.3" stroke="#5a5a5a" stroke-width="0.35" opacity="0.35"/><text x="105.3" y="117.2" font-size="3.5" font-weight="bold" fill="#5e5a7e">a</text><text x="105.3" y="123.6" font-size="3.5" font-weight="bold" fill="#3e5e4a">a</text><text x="105.3" y="130.6" font-size="3.5" font-weight="bold" fill="#6a5040">a</text><path d="M10.2,103.4H106.7V180.7" fill="none" stroke="#8c8c8c" stroke-width="0.8"/><path d="M10.2,103.4V180.7H106.7" fill="none" stroke="#6a6a6a" stroke-width="0.8"/><line x1="9.1" x2="10.2" y1="180.7" y2="180.7" stroke="#6a6a6a" stroke-width="0.5"/><text x="8.2" y="181.8" font-size="3.2" text-anchor="end" fill="#3a3a3a" font-family="Liberation Serif">0</text><line x1="9.1" x2="10.2" y1="172.97" y2="172.97" stroke="#6a6a6a" stroke-width="0.5"/><line x1="9.1" x2="10.2" y1="165.24" y2="165.24" stroke="#6a6a6a" stroke-width="0.5"/><text x="8.2" y="166.34" font-size="3.2" text-anchor="end" fill="#3a3a3a" font-family="Liberation Serif">2</text><line x1="9.1" x2="10.2" y1="157.51" y2="157.51" stroke="#6a6a6a" stroke-width="0.5"/><line x1="9.1" x2="10.2" y1="149.78" y2="149.78" stroke="#6a6a6a" stroke-width="0.5"/><text x="8.2" y="150.88" font-size="3.2" text-anchor="end" fill="#3a3a3a" font-family="Liberation Serif">4</text><line x1="9.1" x2="10.2" y1="142.05" y2="142.05" stroke="#6a6a6a" stroke-width="0.5"/><line x1="9.1" x2="10.2" y1="134.32" y2="134.32" stroke="#6a6a6a" stroke-width="0.5"/><text x="8.2" y="135.42" font-size="3.2" text-anchor="end" fill="#3a3a3a" font-family="Liberation Serif">6</text><line x1="9.1" x2="10.2" y1="126.59" y2="126.59" stroke="#6a6a6a" stroke-width="0.5"/><line x1="9.1" x2="10.2" y1="118.86" y2="118.86" stroke="#6a6a6a" stroke-width="0.5"/><text x="8.2" y="119.96" font-size="3.2" text-anchor="end" fill="#3a3a3a" font-family="Liberation Serif">8</text><line x1="9.1" x2="10.2" y1="111.13" y2="111.13" stroke="#6a6a6a" stroke-width="0.5"/><line x1="9.1" x2="10.2" y1="103.4" y2="103.4" stroke="#6a6a6a" stroke-width="0.5"/><text x="8.2" y="104.5" font-size="3.2" text-anchor="end" fill="#3a3a3a" font-family="Liberation Serif">10</text><line x1="25.92" x2="25.92" y1="179.1" y2="180.7" stroke="#8a96a8" stroke-width="0.6"/><line x1="42.08" x2="42.08" y1="179.1" y2="180.7" stroke="#8a96a8" stroke-width="0.6"/><line x1="58.22" x2="58.22" y1="179.1" y2="180.7" stroke="#8a96a8" stroke-width="0.6"/><line x1="74.38" x2="74.38" y1="179.1" y2="180.7" stroke="#8a96a8" stroke-width="0.6"/><line x1="90.53" x2="90.53" y1="179.1" y2="180.7" stroke="#8a96a8" stroke-width="0.6"/><text x="17.85" y="185.3" font-size="3" text-anchor="middle" fill="#333" font-family="Liberation Serif">1:0.1</text><text x="34" y="185.3" font-size="3" text-anchor="middle" fill="#333" font-family="Liberation Serif">5:0.5</text><text x="50.15" y="185.3" font-size="3" text-anchor="middle" fill="#333" font-family="Liberation Serif">10:1</text><text x="66.3" y="185.3" font-size="3" text-anchor="middle" fill="#333" font-family="Liberation Serif">20:2</text><text x="82.45" y="185.3" font-size="3" text-anchor="middle" fill="#333" font-family="Liberation Serif">0:0</text><text x="98.6" y="185.3" font-size="3" text-anchor="middle" fill="#333" font-family="Liberation Serif">0:0.5</text><text x="58.45" y="191.9" font-size="3.9" text-anchor="middle" fill="#222" letter-spacing="0.12" font-family="Liberation Serif">NH<tspan font-size="2.5" dy="0.9">4</tspan><tspan font-size="2.5" dx="-1.25" dy="-2.3">+</tspan><tspan dy="1.4">:K</tspan><tspan font-size="2.5" dy="-1.4">+</tspan><tspan dy="1.4"> (mM)</tspan></text><text transform="translate(2.7,142.05) rotate(-90)" font-size="3.65" text-anchor="middle" fill="#3a3a3a" font-family="Liberation Serif">Fresh weight (g/plant)</text><text x="101.7" y="111.3" font-size="6.4" font-weight="bold" text-anchor="middle" fill="#111" stroke="#111" stroke-width="0.25">D</text></g>
<g><rect x="141.7" y="154.8" width="15.1" height="25.9" fill="#fac697"/><rect x="141.7" y="151.2" width="15.1" height="3.6" fill="#9dd798"/><rect x="141.7" y="149" width="15.1" height="2.2" fill="#c3b8dd"/><rect x="141.9" y="149.2" width="14.7" height="31.3" fill="none" stroke="#a89482" stroke-width="0.45"/><rect x="141.7" y="149" width="15.1" height="0.8" fill="#7f7896" opacity="0.75"/><rect x="141.7" y="150.7" width="15.1" height="1.1" fill="#6e7c82" opacity="0.5"/><rect x="141.7" y="154.3" width="15.1" height="1.1" fill="#8a7d6c" opacity="0.45"/><line x1="149.25" x2="149.25" y1="149.5" y2="157.3" stroke="#5a5a5a" stroke-width="0.35" opacity="0.35"/><text x="156.85" y="152.6" font-size="3.5" font-weight="bold" fill="#5e5a7e">a</text><text x="156.85" y="155.2" font-size="3.5" font-weight="bold" fill="#3e5e4a">a</text><text x="156.85" y="159.6" font-size="3.5" font-weight="bold" fill="#6a5040">a</text><rect x="160.95" y="142.2" width="15.1" height="38.5" fill="#fac697"/><rect x="160.95" y="137.3" width="15.1" height="4.9" fill="#9dd798"/><rect x="160.95" y="133.9" width="15.1" height="3.4" fill="#c3b8dd"/><rect x="161.15" y="134.1" width="14.7" height="46.4" fill="none" stroke="#a89482" stroke-width="0.45"/><rect x="160.95" y="133.9" width="15.1" height="0.8" fill="#7f7896" opacity="0.75"/><rect x="160.95" y="136.8" width="15.1" height="1.1" fill="#6e7c82" opacity="0.5"/><rect x="160.95" y="141.7" width="15.1" height="1.1" fill="#8a7d6c" opacity="0.45"/><line x1="168.5" x2="168.5" y1="134.4" y2="144.7" stroke="#5a5a5a" stroke-width="0.35" opacity="0.35"/><text x="176.1" y="137.5" font-size="3.5" font-weight="bold" fill="#5e5a7e">a</text><text x="176.1" y="141.3" font-size="3.5" font-weight="bold" fill="#3e5e4a">a</text><text x="176.1" y="147" font-size="3.5" font-weight="bold" fill="#6a5040">a</text><rect x="180.2" y="141.6" width="15.1" height="39.1" fill="#fac697"/><rect x="180.2" y="138.2" width="15.1" height="3.4" fill="#9dd798"/><rect x="180.2" y="134.6" width="15.1" height="3.6" fill="#c3b8dd"/><rect x="180.4" y="134.8" width="14.7" height="45.7" fill="none" stroke="#a89482" stroke-width="0.45"/><rect x="180.2" y="134.6" width="15.1" height="0.8" fill="#7f7896" opacity="0.75"/><rect x="180.2" y="137.7" width="15.1" height="1.1" fill="#6e7c82" opacity="0.5"/><rect x="180.2" y="141.1" width="15.1" height="1.1" fill="#8a7d6c" opacity="0.45"/><line x1="187.75" x2="187.75" y1="135.1" y2="144.1" stroke="#5a5a5a" stroke-width="0.35" opacity="0.35"/><text x="195.35" y="138.2" font-size="3.5" font-weight="bold" fill="#5e5a7e">a</text><text x="195.35" y="142.2" font-size="3.5" font-weight="bold" fill="#3e5e4a">a</text><text x="195.35" y="146.4" font-size="3.5" font-weight="bold" fill="#6a5040">a</text><rect x="199.45" y="165.6" width="15.1" height="15.1" fill="#fac697"/><rect x="199.45" y="164.3" width="15.1" height="1.3" fill="#9dd798"/><rect x="199.45" y="162.9" width="15.1" height="1.4" fill="#c3b8dd"/><rect x="199.65" y="163.1" width="14.7" height="17.4" fill="none" stroke="#a89482" stroke-width="0.45"/><rect x="199.45" y="162.9" width="15.1" height="0.8" fill="#7f7896" opacity="0.75"/><rect x="199.45" y="163.8" width="15.1" height="1.1" fill="#6e7c82" opacity="0.5"/><rect x="199.45" y="165.1" width="15.1" height="1.1" fill="#8a7d6c" opacity="0.45"/><line x1="207" x2="207" y1="163.4" y2="168.1" stroke="#5a5a5a" stroke-width="0.35" opacity="0.35"/><text x="214.6" y="166.5" font-size="3.5" font-weight="bold" fill="#5e5a7e">a</text><text x="214.6" y="168.3" font-size="3.5" font-weight="bold" fill="#3e5e4a">a</text><text x="214.6" y="170.4" font-size="3.5" font-weight="bold" fill="#6a5040">a</text><rect x="218.7" y="125.8" width="15.1" height="54.9" fill="#fac697"/><rect x="218.7" y="119.1" width="15.1" height="6.7" fill="#9dd798"/><rect x="218.7" y="113.7" width="15.1" height="5.4" fill="#c3b8dd"/><rect x="218.9" y="113.9" width="14.7" height="66.6" fill="none" stroke="#a89482" stroke-width="0.45"/><rect x="218.7" y="113.7" width="15.1" height="0.8" fill="#7f7896" opacity="0.75"/><rect x="218.7" y="118.6" width="15.1" height="1.1" fill="#6e7c82" opacity="0.5"/><rect x="218.7" y="125.3" width="15.1" height="1.1" fill="#8a7d6c" opacity="0.45"/><line x1="226.25" x2="226.25" y1="114.2" y2="128.3" stroke="#5a5a5a" stroke-width="0.35" opacity="0.35"/><text x="233.85" y="117.3" font-size="3.5" font-weight="bold" fill="#5e5a7e">a</text><text x="233.85" y="123.1" font-size="3.5" font-weight="bold" fill="#3e5e4a">a</text><text x="233.85" y="130.6" font-size="3.5" font-weight="bold" fill="#6a5040">a</text><path d="M139.9,103.4H236.5V180.7" fill="none" stroke="#8c8c8c" stroke-width="0.8"/><path d="M139.9,103.4V180.7H236.5" fill="none" stroke="#6a6a6a" stroke-width="0.8"/><line x1="138.8" x2="139.9" y1="180.7" y2="180.7" stroke="#6a6a6a" stroke-width="0.5"/><text x="137.9" y="181.8" font-size="3.2" text-anchor="end" fill="#3a3a3a" font-family="Liberation Serif">0</text><line x1="138.8" x2="139.9" y1="172.97" y2="172.97" stroke="#6a6a6a" stroke-width="0.5"/><line x1="138.8" x2="139.9" y1="165.24" y2="165.24" stroke="#6a6a6a" stroke-width="0.5"/><text x="137.9" y="166.34" font-size="3.2" text-anchor="end" fill="#3a3a3a" font-family="Liberation Serif">2</text><line x1="138.8" x2="139.9" y1="157.51" y2="157.51" stroke="#6a6a6a" stroke-width="0.5"/><line x1="138.8" x2="139.9" y1="149.78" y2="149.78" stroke="#6a6a6a" stroke-width="0.5"/><text x="137.9" y="150.88" font-size="3.2" text-anchor="end" fill="#3a3a3a" font-family="Liberation Serif">4</text><line x1="138.8" x2="139.9" y1="142.05" y2="142.05" stroke="#6a6a6a" stroke-width="0.5"/><line x1="138.8" x2="139.9" y1="134.32" y2="134.32" stroke="#6a6a6a" stroke-width="0.5"/><text x="137.9" y="135.42" font-size="3.2" text-anchor="end" fill="#3a3a3a" font-family="Liberation Serif">6</text><line x1="138.8" x2="139.9" y1="126.59" y2="126.59" stroke="#6a6a6a" stroke-width="0.5"/><line x1="138.8" x2="139.9" y1="118.86" y2="118.86" stroke="#6a6a6a" stroke-width="0.5"/><text x="137.9" y="119.96" font-size="3.2" text-anchor="end" fill="#3a3a3a" font-family="Liberation Serif">8</text><line x1="138.8" x2="139.9" y1="111.13" y2="111.13" stroke="#6a6a6a" stroke-width="0.5"/><line x1="138.8" x2="139.9" y1="103.4" y2="103.4" stroke="#6a6a6a" stroke-width="0.5"/><text x="137.9" y="104.5" font-size="3.2" text-anchor="end" fill="#3a3a3a" font-family="Liberation Serif">10</text><line x1="158.88" x2="158.88" y1="179.1" y2="180.7" stroke="#8a96a8" stroke-width="0.6"/><line x1="178.12" x2="178.12" y1="179.1" y2="180.7" stroke="#8a96a8" stroke-width="0.6"/><line x1="197.38" x2="197.38" y1="179.1" y2="180.7" stroke="#8a96a8" stroke-width="0.6"/><line x1="216.62" x2="216.62" y1="179.1" y2="180.7" stroke="#8a96a8" stroke-width="0.6"/><text x="149.25" y="185.3" font-size="3" text-anchor="middle" fill="#333" font-family="Liberation Serif">2:0.1</text><text x="168.5" y="185.3" font-size="3" text-anchor="middle" fill="#333" font-family="Liberation Serif">10:0.5</text><text x="187.75" y="185.3" font-size="3" text-anchor="middle" fill="#333" font-family="Liberation Serif">20:1</text><text x="207" y="185.3" font-size="3" text-anchor="middle" fill="#333" font-family="Liberation Serif">0:0</text><text x="226.25" y="185.3" font-size="3" text-anchor="middle" fill="#333" font-family="Liberation Serif">0:0.5</text><text x="188.2" y="191.9" font-size="3.9" text-anchor="middle" fill="#222" letter-spacing="0.12" font-family="Liberation Serif">NH<tspan font-size="2.5" dy="0.9">4</tspan><tspan font-size="2.5" dx="-1.25" dy="-2.3">+</tspan><tspan dy="1.4">:K</tspan><tspan font-size="2.5" dy="-1.4">+</tspan><tspan dy="1.4"> (mM)</tspan></text><text transform="translate(132.4,142.05) rotate(-90)" font-size="3.65" text-anchor="middle" fill="#3a3a3a" font-family="Liberation Serif">Fresh weight (g/plant)</text><text x="226.3" y="111.7" font-size="6.4" font-weight="bold" text-anchor="middle" fill="#111" stroke="#111" stroke-width="0.25">E</text></g>
<g><rect x="270.6" y="158.9" width="15.6" height="21.8" fill="#fac697"/><rect x="270.6" y="156.6" width="15.6" height="2.3" fill="#9dd798"/><rect x="270.6" y="155.2" width="15.6" height="1.4" fill="#c3b8dd"/><rect x="270.8" y="155.4" width="15.2" height="25.1" fill="none" stroke="#a89482" stroke-width="0.45"/><rect x="270.6" y="155.2" width="15.6" height="0.8" fill="#7f7896" opacity="0.75"/><rect x="270.6" y="156.1" width="15.6" height="1.1" fill="#6e7c82" opacity="0.5"/><rect x="270.6" y="158.4" width="15.6" height="1.1" fill="#8a7d6c" opacity="0.45"/><line x1="278.4" x2="278.4" y1="155.7" y2="161.4" stroke="#5a5a5a" stroke-width="0.35" opacity="0.35"/><text x="286.25" y="158.8" font-size="3.5" font-weight="bold" fill="#5e5a7e">a</text><text x="286.25" y="160.6" font-size="3.5" font-weight="bold" fill="#3e5e4a">a</text><text x="286.25" y="163.7" font-size="3.5" font-weight="bold" fill="#6a5040">a</text><rect x="289.8" y="158" width="15.6" height="22.7" fill="#fac697"/><rect x="289.8" y="155.3" width="15.6" height="2.7" fill="#9dd798"/><rect x="289.8" y="153" width="15.6" height="2.3" fill="#c3b8dd"/><rect x="290" y="153.2" width="15.2" height="27.3" fill="none" stroke="#a89482" stroke-width="0.45"/><rect x="289.8" y="153" width="15.6" height="0.8" fill="#7f7896" opacity="0.75"/><rect x="289.8" y="154.8" width="15.6" height="1.1" fill="#6e7c82" opacity="0.5"/><rect x="289.8" y="157.5" width="15.6" height="1.1" fill="#8a7d6c" opacity="0.45"/><line x1="297.6" x2="297.6" y1="153.5" y2="160.5" stroke="#5a5a5a" stroke-width="0.35" opacity="0.35"/><text x="305.45" y="156.6" font-size="3.5" font-weight="bold" fill="#5e5a7e">a</text><text x="305.45" y="159.3" font-size="3.5" font-weight="bold" fill="#3e5e4a">a</text><text x="305.45" y="162.8" font-size="3.5" font-weight="bold" fill="#6a5040">a</text><rect x="309" y="167.9" width="15.6" height="12.8" fill="#fac697"/><rect x="309" y="166.3" width="15.6" height="1.6" fill="#9dd798"/><rect x="309" y="165.2" width="15.6" height="1.1" fill="#c3b8dd"/><rect x="309.2" y="165.4" width="15.2" height="15.1" fill="none" stroke="#a89482" stroke-width="0.45"/><rect x="309" y="165.2" width="15.6" height="0.8" fill="#7f7896" opacity="0.75"/><rect x="309" y="165.8" width="15.6" height="1.1" fill="#6e7c82" opacity="0.5"/><rect x="309" y="167.4" width="15.6" height="1.1" fill="#8a7d6c" opacity="0.45"/><line x1="316.8" x2="316.8" y1="165.7" y2="170.4" stroke="#5a5a5a" stroke-width="0.35" opacity="0.35"/><text x="324.65" y="168.8" font-size="3.5" font-weight="bold" fill="#5e5a7e">a</text><text x="324.65" y="170.3" font-size="3.5" font-weight="bold" fill="#3e5e4a">a</text><text x="324.65" y="172.7" font-size="3.5" font-weight="bold" fill="#6a5040">a</text><rect x="328.2" y="165.6" width="15.6" height="15.1" fill="#fac697"/><rect x="328.2" y="164" width="15.6" height="1.6" fill="#9dd798"/><rect x="328.2" y="162.9" width="15.6" height="1.1" fill="#c3b8dd"/><rect x="328.4" y="163.1" width="15.2" height="17.4" fill="none" stroke="#a89482" stroke-width="0.45"/><rect x="328.2" y="162.9" width="15.6" height="0.8" fill="#7f7896" opacity="0.75"/><rect x="328.2" y="163.5" width="15.6" height="1.1" fill="#6e7c82" opacity="0.5"/><rect x="328.2" y="165.1" width="15.6" height="1.1" fill="#8a7d6c" opacity="0.45"/><line x1="336" x2="336" y1="163.4" y2="168.1" stroke="#5a5a5a" stroke-width="0.35" opacity="0.35"/><text x="343.85" y="166.5" font-size="3.5" font-weight="bold" fill="#5e5a7e">a</text><text x="343.85" y="168" font-size="3.5" font-weight="bold" fill="#3e5e4a">a</text><text x="343.85" y="170.4" font-size="3.5" font-weight="bold" fill="#6a5040">a</text><rect x="347.4" y="126" width="15.6" height="54.7" fill="#fac697"/><rect x="347.4" y="119.3" width="15.6" height="6.7" fill="#9dd798"/><rect x="347.4" y="113.9" width="15.6" height="5.4" fill="#c3b8dd"/><rect x="347.6" y="114.1" width="15.2" height="66.4" fill="none" stroke="#a89482" stroke-width="0.45"/><rect x="347.4" y="113.9" width="15.6" height="0.8" fill="#7f7896" opacity="0.75"/><rect x="347.4" y="118.8" width="15.6" height="1.1" fill="#6e7c82" opacity="0.5"/><rect x="347.4" y="125.5" width="15.6" height="1.1" fill="#8a7d6c" opacity="0.45"/><line x1="355.2" x2="355.2" y1="114.4" y2="128.5" stroke="#5a5a5a" stroke-width="0.35" opacity="0.35"/><text x="363.05" y="117.5" font-size="3.5" font-weight="bold" fill="#5e5a7e">a</text><text x="363.05" y="123.3" font-size="3.5" font-weight="bold" fill="#3e5e4a">a</text><text x="363.05" y="130.8" font-size="3.5" font-weight="bold" fill="#6a5040">a</text><path d="M269,103.4H365.3V180.7" fill="none" stroke="#8c8c8c" stroke-width="0.8"/><path d="M269,103.4V180.7H365.3" fill="none" stroke="#6a6a6a" stroke-width="0.8"/><line x1="267.9" x2="269" y1="180.7" y2="180.7" stroke="#6a6a6a" stroke-width="0.5"/><text x="267" y="181.8" font-size="3.2" text-anchor="end" fill="#3a3a3a" font-family="Liberation Serif">0</text><line x1="267.9" x2="269" y1="172.97" y2="172.97" stroke="#6a6a6a" stroke-width="0.5"/><line x1="267.9" x2="269" y1="165.24" y2="165.24" stroke="#6a6a6a" stroke-width="0.5"/><text x="267" y="166.34" font-size="3.2" text-anchor="end" fill="#3a3a3a" font-family="Liberation Serif">2</text><line x1="267.9" x2="269" y1="157.51" y2="157.51" stroke="#6a6a6a" stroke-width="0.5"/><line x1="267.9" x2="269" y1="149.78" y2="149.78" stroke="#6a6a6a" stroke-width="0.5"/><text x="267" y="150.88" font-size="3.2" text-anchor="end" fill="#3a3a3a" font-family="Liberation Serif">4</text><line x1="267.9" x2="269" y1="142.05" y2="142.05" stroke="#6a6a6a" stroke-width="0.5"/><line x1="267.9" x2="269" y1="134.32" y2="134.32" stroke="#6a6a6a" stroke-width="0.5"/><text x="267" y="135.42" font-size="3.2" text-anchor="end" fill="#3a3a3a" font-family="Liberation Serif">6</text><line x1="267.9" x2="269" y1="126.59" y2="126.59" stroke="#6a6a6a" stroke-width="0.5"/><line x1="267.9" x2="269" y1="118.86" y2="118.86" stroke="#6a6a6a" stroke-width="0.5"/><text x="267" y="119.96" font-size="3.2" text-anchor="end" fill="#3a3a3a" font-family="Liberation Serif">8</text><line x1="267.9" x2="269" y1="111.13" y2="111.13" stroke="#6a6a6a" stroke-width="0.5"/><line x1="267.9" x2="269" y1="103.4" y2="103.4" stroke="#6a6a6a" stroke-width="0.5"/><text x="267" y="104.5" font-size="3.2" text-anchor="end" fill="#3a3a3a" font-family="Liberation Serif">10</text><line x1="288" x2="288" y1="179.1" y2="180.7" stroke="#8a96a8" stroke-width="0.6"/><line x1="307.2" x2="307.2" y1="179.1" y2="180.7" stroke="#8a96a8" stroke-width="0.6"/><line x1="326.4" x2="326.4" y1="179.1" y2="180.7" stroke="#8a96a8" stroke-width="0.6"/><line x1="345.6" x2="345.6" y1="179.1" y2="180.7" stroke="#8a96a8" stroke-width="0.6"/><text x="278.4" y="185.3" font-size="3" text-anchor="middle" fill="#333" font-family="Liberation Serif">5:0.1</text><text x="297.6" y="185.3" font-size="3" text-anchor="middle" fill="#333" font-family="Liberation Serif">10:0.2</text><text x="316.8" y="185.3" font-size="3" text-anchor="middle" fill="#333" font-family="Liberation Serif">20:1</text><text x="336" y="185.3" font-size="3" text-anchor="middle" fill="#333" font-family="Liberation Serif">0:0</text><text x="355.2" y="185.3" font-size="3" text-anchor="middle" fill="#333" font-family="Liberation Serif">0:0.5</text><text x="317.15" y="191.9" font-size="3.9" text-anchor="middle" fill="#222" letter-spacing="0.12" font-family="Liberation Serif">NH<tspan font-size="2.5" dy="0.9">4</tspan><tspan font-size="2.5" dx="-1.25" dy="-2.3">+</tspan><tspan dy="1.4">:K</tspan><tspan font-size="2.5" dy="-1.4">+</tspan><tspan dy="1.4"> (mM)</tspan></text><text transform="translate(261.5,142.05) rotate(-90)" font-size="3.65" text-anchor="middle" fill="#3a3a3a" font-family="Liberation Serif">Fresh weight (g/plant)</text><text x="354.3" y="111.7" font-size="6.4" font-weight="bold" text-anchor="middle" fill="#111" stroke="#111" stroke-width="0.25">F</text></g>
<g><rect x="11.3" y="270.1" width="15.8" height="14" fill="#fac697"/><rect x="11.3" y="268.1" width="15.8" height="2" fill="#9dd798"/><rect x="11.3" y="266.7" width="15.8" height="1.4" fill="#c3b8dd"/><rect x="11.5" y="266.9" width="15.4" height="17" fill="none" stroke="#a89482" stroke-width="0.45"/><rect x="11.3" y="266.7" width="15.8" height="0.8" fill="#7f7896" opacity="0.75"/><rect x="11.3" y="267.6" width="15.8" height="1.1" fill="#6e7c82" opacity="0.5"/><rect x="11.3" y="269.6" width="15.8" height="1.1" fill="#8a7d6c" opacity="0.45"/><line x1="19.2" x2="19.2" y1="267.2" y2="272.6" stroke="#5a5a5a" stroke-width="0.35" opacity="0.35"/><text x="27.15" y="270.3" font-size="3.5" font-weight="bold" fill="#5e5a7e">a</text><text x="27.15" y="272.1" font-size="3.5" font-weight="bold" fill="#3e5e4a">a</text><text x="27.15" y="274.9" font-size="3.5" font-weight="bold" fill="#6a5040">a</text><rect x="30.8" y="264" width="15.8" height="20.1" fill="#fac697"/><rect x="30.8" y="261.8" width="15.8" height="2.2" fill="#9dd798"/><rect x="30.8" y="260" width="15.8" height="1.8" fill="#c3b8dd"/><rect x="31" y="260.2" width="15.4" height="23.7" fill="none" stroke="#a89482" stroke-width="0.45"/><rect x="30.8" y="260" width="15.8" height="0.8" fill="#7f7896" opacity="0.75"/><rect x="30.8" y="261.3" width="15.8" height="1.1" fill="#6e7c82" opacity="0.5"/><rect x="30.8" y="263.5" width="15.8" height="1.1" fill="#8a7d6c" opacity="0.45"/><line x1="38.7" x2="38.7" y1="260.5" y2="266.5" stroke="#5a5a5a" stroke-width="0.35" opacity="0.35"/><text x="46.65" y="263.6" font-size="3.5" font-weight="bold" fill="#5e5a7e">a</text><text x="46.65" y="265.8" font-size="3.5" font-weight="bold" fill="#3e5e4a">a</text><text x="46.65" y="268.8" font-size="3.5" font-weight="bold" fill="#6a5040">a</text><rect x="50.3" y="280.4" width="15.8" height="3.7" fill="#fac697"/><rect x="50.3" y="279.8" width="15.8" height="0.6" fill="#9dd798"/><rect x="50.3" y="279.1" width="15.8" height="0.7" fill="#c3b8dd"/><rect x="50.5" y="279.3" width="15.4" height="4.6" fill="none" stroke="#a89482" stroke-width="0.45"/><rect x="50.3" y="279.1" width="15.8" height="0.8" fill="#7f7896" opacity="0.75"/><rect x="50.3" y="279.3" width="15.8" height="1.1" fill="#6e7c82" opacity="0.5"/><rect x="50.3" y="279.9" width="15.8" height="1.1" fill="#8a7d6c" opacity="0.45"/><line x1="58.2" x2="58.2" y1="279.6" y2="282.9" stroke="#5a5a5a" stroke-width="0.35" opacity="0.35"/><text x="66.15" y="282.7" font-size="3.5" font-weight="bold" fill="#5e5a7e">a</text><text x="66.15" y="283.8" font-size="3.5" font-weight="bold" fill="#3e5e4a">a</text><rect x="69.8" y="269.7" width="15.8" height="14.4" fill="#fac697"/><rect x="69.8" y="267.4" width="15.8" height="2.3" fill="#9dd798"/><rect x="69.8" y="266.3" width="15.8" height="1.1" fill="#c3b8dd"/><rect x="70" y="266.5" width="15.4" height="17.4" fill="none" stroke="#a89482" stroke-width="0.45"/><rect x="69.8" y="266.3" width="15.8" height="0.8" fill="#7f7896" opacity="0.75"/><rect x="69.8" y="266.9" width="15.8" height="1.1" fill="#6e7c82" opacity="0.5"/><rect x="69.8" y="269.2" width="15.8" height="1.1" fill="#8a7d6c" opacity="0.45"/><line x1="77.7" x2="77.7" y1="266.8" y2="272.2" stroke="#5a5a5a" stroke-width="0.35" opacity="0.35"/><text x="85.65" y="269.9" font-size="3.5" font-weight="bold" fill="#5e5a7e">a</text><text x="85.65" y="271.4" font-size="3.5" font-weight="bold" fill="#3e5e4a">a</text><text x="85.65" y="274.5" font-size="3.5" font-weight="bold" fill="#6a5040">a</text><rect x="89.3" y="229.7" width="15.8" height="54.4" fill="#fac697"/><rect x="89.3" y="222.9" width="15.8" height="6.8" fill="#9dd798"/><rect x="89.3" y="216.7" width="15.8" height="6.2" fill="#c3b8dd"/><rect x="89.5" y="216.9" width="15.4" height="67" fill="none" stroke="#a89482" stroke-width="0.45"/><rect x="89.3" y="216.7" width="15.8" height="0.8" fill="#7f7896" opacity="0.75"/><rect x="89.3" y="222.4" width="15.8" height="1.1" fill="#6e7c82" opacity="0.5"/><rect x="89.3" y="229.2" width="15.8" height="1.1" fill="#8a7d6c" opacity="0.45"/><line x1="97.2" x2="97.2" y1="217.2" y2="232.2" stroke="#5a5a5a" stroke-width="0.35" opacity="0.35"/><text x="105.15" y="220.3" font-size="3.5" font-weight="bold" fill="#5e5a7e">a</text><text x="105.15" y="226.9" font-size="3.5" font-weight="bold" fill="#3e5e4a">a</text><text x="105.15" y="234.5" font-size="3.5" font-weight="bold" fill="#6a5040">a</text><path d="M10.2,206.9H106.6V284.1" fill="none" stroke="#8c8c8c" stroke-width="0.8"/><path d="M10.2,206.9V284.1H106.6" fill="none" stroke="#6a6a6a" stroke-width="0.8"/><line x1="9.1" x2="10.2" y1="284.1" y2="284.1" stroke="#6a6a6a" stroke-width="0.5"/><text x="8.2" y="285.2" font-size="3.2" text-anchor="end" fill="#3a3a3a" font-family="Liberation Serif">0</text><line x1="9.1" x2="10.2" y1="276.38" y2="276.38" stroke="#6a6a6a" stroke-width="0.5"/><line x1="9.1" x2="10.2" y1="268.66" y2="268.66" stroke="#6a6a6a" stroke-width="0.5"/><text x="8.2" y="269.76" font-size="3.2" text-anchor="end" fill="#3a3a3a" font-family="Liberation Serif">2</text><line x1="9.1" x2="10.2" y1="260.94" y2="260.94" stroke="#6a6a6a" stroke-width="0.5"/><line x1="9.1" x2="10.2" y1="253.22" y2="253.22" stroke="#6a6a6a" stroke-width="0.5"/><text x="8.2" y="254.32" font-size="3.2" text-anchor="end" fill="#3a3a3a" font-family="Liberation Serif">4</text><line x1="9.1" x2="10.2" y1="245.5" y2="245.5" stroke="#6a6a6a" stroke-width="0.5"/><line x1="9.1" x2="10.2" y1="237.78" y2="237.78" stroke="#6a6a6a" stroke-width="0.5"/><text x="8.2" y="238.88" font-size="3.2" text-anchor="end" fill="#3a3a3a" font-family="Liberation Serif">6</text><line x1="9.1" x2="10.2" y1="230.06" y2="230.06" stroke="#6a6a6a" stroke-width="0.5"/><line x1="9.1" x2="10.2" y1="222.34" y2="222.34" stroke="#6a6a6a" stroke-width="0.5"/><text x="8.2" y="223.44" font-size="3.2" text-anchor="end" fill="#3a3a3a" font-family="Liberation Serif">8</text><line x1="9.1" x2="10.2" y1="214.62" y2="214.62" stroke="#6a6a6a" stroke-width="0.5"/><line x1="9.1" x2="10.2" y1="206.9" y2="206.9" stroke="#6a6a6a" stroke-width="0.5"/><text x="8.2" y="208" font-size="3.2" text-anchor="end" fill="#3a3a3a" font-family="Liberation Serif">10</text><line x1="28.95" x2="28.95" y1="282.5" y2="284.1" stroke="#8a96a8" stroke-width="0.6"/><line x1="48.45" x2="48.45" y1="282.5" y2="284.1" stroke="#8a96a8" stroke-width="0.6"/><line x1="67.95" x2="67.95" y1="282.5" y2="284.1" stroke="#8a96a8" stroke-width="0.6"/><line x1="87.45" x2="87.45" y1="282.5" y2="284.1" stroke="#8a96a8" stroke-width="0.6"/><text x="19.2" y="288.7" font-size="3" text-anchor="middle" fill="#333" font-family="Liberation Serif">10:0.1</text><text x="38.7" y="288.7" font-size="3" text-anchor="middle" fill="#333" font-family="Liberation Serif">20:0.2</text><text x="58.2" y="288.7" font-size="3" text-anchor="middle" fill="#333" font-family="Liberation Serif">50:0.5</text><text x="77.7" y="288.7" font-size="3" text-anchor="middle" fill="#333" font-family="Liberation Serif">0:0</text><text x="97.2" y="288.7" font-size="3" text-anchor="middle" fill="#333" font-family="Liberation Serif">0:0.5</text><text x="58.4" y="295.3" font-size="3.9" text-anchor="middle" fill="#222" letter-spacing="0.12" font-family="Liberation Serif">NH<tspan font-size="2.5" dy="0.9">4</tspan><tspan font-size="2.5" dx="-1.25" dy="-2.3">+</tspan><tspan dy="1.4">:K</tspan><tspan font-size="2.5" dy="-1.4">+</tspan><tspan dy="1.4"> (mM)</tspan></text><text transform="translate(2.7,245.5) rotate(-90)" font-size="3.65" text-anchor="middle" fill="#3a3a3a" font-family="Liberation Serif">Fresh weight (g/plant)</text><text x="99.4" y="214.7" font-size="6.4" font-weight="bold" text-anchor="middle" fill="#111" stroke="#111" stroke-width="0.25">G</text></g>
<g><rect x="141.5" y="265.2" width="13.4" height="18.9" fill="#fac697"/><rect x="141.5" y="262" width="13.4" height="3.2" fill="#9dd798"/><rect x="141.5" y="259.8" width="13.4" height="2.2" fill="#c3b8dd"/><rect x="141.7" y="260" width="13" height="23.9" fill="none" stroke="#a89482" stroke-width="0.45"/><rect x="141.5" y="259.8" width="13.4" height="0.8" fill="#7f7896" opacity="0.75"/><rect x="141.5" y="261.5" width="13.4" height="1.1" fill="#6e7c82" opacity="0.5"/><rect x="141.5" y="264.7" width="13.4" height="1.1" fill="#8a7d6c" opacity="0.45"/><line x1="148.2" x2="148.2" y1="260.3" y2="267.7" stroke="#5a5a5a" stroke-width="0.35" opacity="0.35"/><text x="154.95" y="263.4" font-size="3.5" font-weight="bold" fill="#5e5a7e">a</text><text x="154.95" y="266" font-size="3.5" font-weight="bold" fill="#3e5e4a">a</text><text x="154.95" y="270" font-size="3.5" font-weight="bold" fill="#6a5040">a</text><rect x="157.52" y="247.3" width="13.4" height="36.8" fill="#fac697"/><rect x="157.52" y="241.2" width="13.4" height="6.1" fill="#9dd798"/><rect x="157.52" y="236.9" width="13.4" height="4.3" fill="#c3b8dd"/><rect x="157.72" y="237.1" width="13" height="46.8" fill="none" stroke="#a89482" stroke-width="0.45"/><rect x="157.52" y="236.9" width="13.4" height="0.8" fill="#7f7896" opacity="0.75"/><rect x="157.52" y="240.7" width="13.4" height="1.1" fill="#6e7c82" opacity="0.5"/><rect x="157.52" y="246.8" width="13.4" height="1.1" fill="#8a7d6c" opacity="0.45"/><line x1="164.22" x2="164.22" y1="237.4" y2="249.8" stroke="#5a5a5a" stroke-width="0.35" opacity="0.35"/><text x="170.97" y="240.5" font-size="3.5" font-weight="bold" fill="#5e5a7e">a</text><text x="170.97" y="245.2" font-size="3.5" font-weight="bold" fill="#3e5e4a">a</text><text x="170.97" y="252.1" font-size="3.5" font-weight="bold" fill="#6a5040">a</text><rect x="173.54" y="240" width="13.4" height="44.1" fill="#fac697"/><rect x="173.54" y="231.9" width="13.4" height="8.1" fill="#9dd798"/><rect x="173.54" y="227.4" width="13.4" height="4.5" fill="#c3b8dd"/><rect x="173.74" y="227.6" width="13" height="56.3" fill="none" stroke="#a89482" stroke-width="0.45"/><rect x="173.54" y="227.4" width="13.4" height="0.8" fill="#7f7896" opacity="0.75"/><rect x="173.54" y="231.4" width="13.4" height="1.1" fill="#6e7c82" opacity="0.5"/><rect x="173.54" y="239.5" width="13.4" height="1.1" fill="#8a7d6c" opacity="0.45"/><line x1="180.24" x2="180.24" y1="227.9" y2="242.5" stroke="#5a5a5a" stroke-width="0.35" opacity="0.35"/><text x="186.99" y="231" font-size="3.5" font-weight="bold" fill="#5e5a7e">a</text><text x="186.99" y="235.9" font-size="3.5" font-weight="bold" fill="#3e5e4a">a</text><text x="186.99" y="244.8" font-size="3.5" font-weight="bold" fill="#6a5040">a</text><rect x="189.56" y="224.7" width="13.4" height="59.4" fill="#fac697"/><rect x="189.56" y="218" width="13.4" height="6.7" fill="#9dd798"/><rect x="189.56" y="213" width="13.4" height="5" fill="#c3b8dd"/><rect x="189.76" y="213.2" width="13" height="70.7" fill="none" stroke="#a89482" stroke-width="0.45"/><rect x="189.56" y="213" width="13.4" height="0.8" fill="#7f7896" opacity="0.75"/><rect x="189.56" y="217.5" width="13.4" height="1.1" fill="#6e7c82" opacity="0.5"/><rect x="189.56" y="224.2" width="13.4" height="1.1" fill="#8a7d6c" opacity="0.45"/><line x1="196.26" x2="196.26" y1="213.5" y2="227.2" stroke="#5a5a5a" stroke-width="0.35" opacity="0.35"/><text x="203.01" y="216.6" font-size="3.5" font-weight="bold" fill="#5e5a7e">a</text><text x="203.01" y="222" font-size="3.5" font-weight="bold" fill="#3e5e4a">a</text><text x="203.01" y="229.5" font-size="3.5" font-weight="bold" fill="#6a5040">a</text><rect x="205.58" y="274.9" width="13.4" height="9.2" fill="#fac697"/><rect x="205.58" y="273.7" width="13.4" height="1.2" fill="#9dd798"/><rect x="205.58" y="272.2" width="13.4" height="1.5" fill="#c3b8dd"/><rect x="205.78" y="272.4" width="13" height="11.5" fill="none" stroke="#a89482" stroke-width="0.45"/><rect x="205.58" y="272.2" width="13.4" height="0.8" fill="#7f7896" opacity="0.75"/><rect x="205.58" y="273.2" width="13.4" height="1.1" fill="#6e7c82" opacity="0.5"/><rect x="205.58" y="274.4" width="13.4" height="1.1" fill="#8a7d6c" opacity="0.45"/><line x1="212.28" x2="212.28" y1="272.7" y2="277.4" stroke="#5a5a5a" stroke-width="0.35" opacity="0.35"/><text x="219.03" y="275.8" font-size="3.5" font-weight="bold" fill="#5e5a7e">a</text><text x="219.03" y="277.7" font-size="3.5" font-weight="bold" fill="#3e5e4a">a</text><text x="219.03" y="279.7" font-size="3.5" font-weight="bold" fill="#6a5040">a</text><rect x="221.6" y="247.6" width="13.4" height="36.5" fill="#fac697"/><rect x="221.6" y="243.4" width="13.4" height="4.2" fill="#9dd798"/><rect x="221.6" y="239.3" width="13.4" height="4.1" fill="#c3b8dd"/><rect x="221.8" y="239.5" width="13" height="44.4" fill="none" stroke="#a89482" stroke-width="0.45"/><rect x="221.6" y="239.3" width="13.4" height="0.8" fill="#7f7896" opacity="0.75"/><rect x="221.6" y="242.9" width="13.4" height="1.1" fill="#6e7c82" opacity="0.5"/><rect x="221.6" y="247.1" width="13.4" height="1.1" fill="#8a7d6c" opacity="0.45"/><line x1="228.3" x2="228.3" y1="239.8" y2="250.1" stroke="#5a5a5a" stroke-width="0.35" opacity="0.35"/><text x="235.05" y="242.9" font-size="3.5" font-weight="bold" fill="#5e5a7e">a</text><text x="235.05" y="247.4" font-size="3.5" font-weight="bold" fill="#3e5e4a">a</text><text x="235.05" y="252.4" font-size="3.5" font-weight="bold" fill="#6a5040">a</text><path d="M139.9,206.9H236.2V284.1" fill="none" stroke="#8c8c8c" stroke-width="0.8"/><path d="M139.9,206.9V284.1H236.2" fill="none" stroke="#6a6a6a" stroke-width="0.8"/><line x1="138.8" x2="139.9" y1="284.1" y2="284.1" stroke="#6a6a6a" stroke-width="0.5"/><text x="137.9" y="285.2" font-size="3.2" text-anchor="end" fill="#3a3a3a" font-family="Liberation Serif">0</text><line x1="138.8" x2="139.9" y1="278.95" y2="278.95" stroke="#6a6a6a" stroke-width="0.5"/><line x1="138.8" x2="139.9" y1="273.81" y2="273.81" stroke="#6a6a6a" stroke-width="0.5"/><text x="137.9" y="274.91" font-size="3.2" text-anchor="end" fill="#3a3a3a" font-family="Liberation Serif">2</text><line x1="138.8" x2="139.9" y1="268.66" y2="268.66" stroke="#6a6a6a" stroke-width="0.5"/><line x1="138.8" x2="139.9" y1="263.51" y2="263.51" stroke="#6a6a6a" stroke-width="0.5"/><text x="137.9" y="264.61" font-size="3.2" text-anchor="end" fill="#3a3a3a" font-family="Liberation Serif">4</text><line x1="138.8" x2="139.9" y1="258.37" y2="258.37" stroke="#6a6a6a" stroke-width="0.5"/><line x1="138.8" x2="139.9" y1="253.22" y2="253.22" stroke="#6a6a6a" stroke-width="0.5"/><text x="137.9" y="254.32" font-size="3.2" text-anchor="end" fill="#3a3a3a" font-family="Liberation Serif">6</text><line x1="138.8" x2="139.9" y1="248.07" y2="248.07" stroke="#6a6a6a" stroke-width="0.5"/><line x1="138.8" x2="139.9" y1="242.93" y2="242.93" stroke="#6a6a6a" stroke-width="0.5"/><text x="137.9" y="244.03" font-size="3.2" text-anchor="end" fill="#3a3a3a" font-family="Liberation Serif">8</text><line x1="138.8" x2="139.9" y1="237.78" y2="237.78" stroke="#6a6a6a" stroke-width="0.5"/><line x1="138.8" x2="139.9" y1="232.63" y2="232.63" stroke="#6a6a6a" stroke-width="0.5"/><text x="137.9" y="233.73" font-size="3.2" text-anchor="end" fill="#3a3a3a" font-family="Liberation Serif">10</text><line x1="138.8" x2="139.9" y1="227.49" y2="227.49" stroke="#6a6a6a" stroke-width="0.5"/><line x1="138.8" x2="139.9" y1="222.34" y2="222.34" stroke="#6a6a6a" stroke-width="0.5"/><text x="137.9" y="223.44" font-size="3.2" text-anchor="end" fill="#3a3a3a" font-family="Liberation Serif">12</text><line x1="138.8" x2="139.9" y1="217.19" y2="217.19" stroke="#6a6a6a" stroke-width="0.5"/><line x1="138.8" x2="139.9" y1="212.05" y2="212.05" stroke="#6a6a6a" stroke-width="0.5"/><text x="137.9" y="213.15" font-size="3.2" text-anchor="end" fill="#3a3a3a" font-family="Liberation Serif">14</text><line x1="138.8" x2="139.9" y1="206.9" y2="206.9" stroke="#6a6a6a" stroke-width="0.5"/><line x1="156.21" x2="156.21" y1="282.5" y2="284.1" stroke="#8a96a8" stroke-width="0.6"/><line x1="172.23" x2="172.23" y1="282.5" y2="284.1" stroke="#8a96a8" stroke-width="0.6"/><line x1="188.25" x2="188.25" y1="282.5" y2="284.1" stroke="#8a96a8" stroke-width="0.6"/><line x1="204.27" x2="204.27" y1="282.5" y2="284.1" stroke="#8a96a8" stroke-width="0.6"/><line x1="220.29" x2="220.29" y1="282.5" y2="284.1" stroke="#8a96a8" stroke-width="0.6"/><text x="148.2" y="288.7" font-size="3" text-anchor="middle" fill="#333" font-family="Liberation Serif">0.1:0.2</text><text x="164.22" y="288.7" font-size="3" text-anchor="middle" fill="#333" font-family="Liberation Serif">0.5:1</text><text x="180.24" y="288.7" font-size="3" text-anchor="middle" fill="#333" font-family="Liberation Serif">1:2</text><text x="196.26" y="288.7" font-size="3" text-anchor="middle" fill="#333" font-family="Liberation Serif">5:10</text><text x="212.28" y="288.7" font-size="3" text-anchor="middle" fill="#333" font-family="Liberation Serif">0:0</text><text x="228.3" y="288.7" font-size="3" text-anchor="middle" fill="#333" font-family="Liberation Serif">0:0.5</text><text x="188.05" y="295.3" font-size="3.9" text-anchor="middle" fill="#222" letter-spacing="0.12" font-family="Liberation Serif">NH<tspan font-size="2.5" dy="0.9">4</tspan><tspan font-size="2.5" dx="-1.25" dy="-2.3">+</tspan><tspan dy="1.4">:K</tspan><tspan font-size="2.5" dy="-1.4">+</tspan><tspan dy="1.4"> (mM)</tspan></text><text transform="translate(132.4,245.5) rotate(-90)" font-size="3.65" text-anchor="middle" fill="#3a3a3a" font-family="Liberation Serif">Fresh weight (g/plant)</text><text x="226" y="214.7" font-size="6.4" font-weight="bold" text-anchor="middle" fill="#111" stroke="#111" stroke-width="0.25">H</text></g>
<g><rect x="270.4" y="250.8" width="13.4" height="33.3" fill="#fac697"/><rect x="270.4" y="246.7" width="13.4" height="4.1" fill="#9dd798"/><rect x="270.4" y="243.1" width="13.4" height="3.6" fill="#c3b8dd"/><rect x="270.6" y="243.3" width="13" height="40.6" fill="none" stroke="#a89482" stroke-width="0.45"/><rect x="270.4" y="243.1" width="13.4" height="0.8" fill="#7f7896" opacity="0.75"/><rect x="270.4" y="246.2" width="13.4" height="1.1" fill="#6e7c82" opacity="0.5"/><rect x="270.4" y="250.3" width="13.4" height="1.1" fill="#8a7d6c" opacity="0.45"/><line x1="277.1" x2="277.1" y1="243.6" y2="253.3" stroke="#5a5a5a" stroke-width="0.35" opacity="0.35"/><text x="283.85" y="246.7" font-size="3.5" font-weight="bold" fill="#5e5a7e">a</text><text x="283.85" y="250.7" font-size="3.5" font-weight="bold" fill="#3e5e4a">a</text><text x="283.85" y="255.6" font-size="3.5" font-weight="bold" fill="#6a5040">a</text><rect x="286.35" y="241.5" width="13.4" height="42.6" fill="#fac697"/><rect x="286.35" y="235.4" width="13.4" height="6.1" fill="#9dd798"/><rect x="286.35" y="231.1" width="13.4" height="4.3" fill="#c3b8dd"/><rect x="286.55" y="231.3" width="13" height="52.6" fill="none" stroke="#a89482" stroke-width="0.45"/><rect x="286.35" y="231.1" width="13.4" height="0.8" fill="#7f7896" opacity="0.75"/><rect x="286.35" y="234.9" width="13.4" height="1.1" fill="#6e7c82" opacity="0.5"/><rect x="286.35" y="241" width="13.4" height="1.1" fill="#8a7d6c" opacity="0.45"/><line x1="293.05" x2="293.05" y1="231.6" y2="244" stroke="#5a5a5a" stroke-width="0.35" opacity="0.35"/><text x="299.8" y="234.7" font-size="3.5" font-weight="bold" fill="#5e5a7e">a</text><text x="299.8" y="239.4" font-size="3.5" font-weight="bold" fill="#3e5e4a">a</text><text x="299.8" y="246.3" font-size="3.5" font-weight="bold" fill="#6a5040">a</text><rect x="302.3" y="233.2" width="13.4" height="50.9" fill="#fac697"/><rect x="302.3" y="224.3" width="13.4" height="8.9" fill="#9dd798"/><rect x="302.3" y="219.8" width="13.4" height="4.5" fill="#c3b8dd"/><rect x="302.5" y="220" width="13" height="63.9" fill="none" stroke="#a89482" stroke-width="0.45"/><rect x="302.3" y="219.8" width="13.4" height="0.8" fill="#7f7896" opacity="0.75"/><rect x="302.3" y="223.8" width="13.4" height="1.1" fill="#6e7c82" opacity="0.5"/><rect x="302.3" y="232.7" width="13.4" height="1.1" fill="#8a7d6c" opacity="0.45"/><line x1="309" x2="309" y1="220.3" y2="235.7" stroke="#5a5a5a" stroke-width="0.35" opacity="0.35"/><text x="315.75" y="223.4" font-size="3.5" font-weight="bold" fill="#5e5a7e">a</text><text x="315.75" y="228.3" font-size="3.5" font-weight="bold" fill="#3e5e4a">a</text><text x="315.75" y="238" font-size="3.5" font-weight="bold" fill="#6a5040">a</text><rect x="318.25" y="225.3" width="13.4" height="58.8" fill="#fac697"/><rect x="318.25" y="218.6" width="13.4" height="6.7" fill="#9dd798"/><rect x="318.25" y="214" width="13.4" height="4.6" fill="#c3b8dd"/><rect x="318.45" y="214.2" width="13" height="69.7" fill="none" stroke="#a89482" stroke-width="0.45"/><rect x="318.25" y="214" width="13.4" height="0.8" fill="#7f7896" opacity="0.75"/><rect x="318.25" y="218.1" width="13.4" height="1.1" fill="#6e7c82" opacity="0.5"/><rect x="318.25" y="224.8" width="13.4" height="1.1" fill="#8a7d6c" opacity="0.45"/><line x1="324.95" x2="324.95" y1="214.5" y2="227.8" stroke="#5a5a5a" stroke-width="0.35" opacity="0.35"/><text x="331.7" y="217.6" font-size="3.5" font-weight="bold" fill="#5e5a7e">a</text><text x="331.7" y="222.6" font-size="3.5" font-weight="bold" fill="#3e5e4a">a</text><text x="331.7" y="230.1" font-size="3.5" font-weight="bold" fill="#6a5040">a</text><rect x="334.2" y="273.8" width="13.4" height="10.3" fill="#fac697"/><rect x="334.2" y="272.7" width="13.4" height="1.1" fill="#9dd798"/><rect x="334.2" y="271.6" width="13.4" height="1.1" fill="#c3b8dd"/><rect x="334.4" y="271.8" width="13" height="12.1" fill="none" stroke="#a89482" stroke-width="0.45"/><rect x="334.2" y="271.6" width="13.4" height="0.8" fill="#7f7896" opacity="0.75"/><rect x="334.2" y="272.2" width="13.4" height="1.1" fill="#6e7c82" opacity="0.5"/><rect x="334.2" y="273.3" width="13.4" height="1.1" fill="#8a7d6c" opacity="0.45"/><line x1="340.9" x2="340.9" y1="272.1" y2="276.3" stroke="#5a5a5a" stroke-width="0.35" opacity="0.35"/><text x="347.65" y="275.2" font-size="3.5" font-weight="bold" fill="#5e5a7e">a</text><text x="347.65" y="276.7" font-size="3.5" font-weight="bold" fill="#3e5e4a">a</text><text x="347.65" y="278.6" font-size="3.5" font-weight="bold" fill="#6a5040">a</text><rect x="350.15" y="245.2" width="13.4" height="38.9" fill="#fac697"/><rect x="350.15" y="240.3" width="13.4" height="4.9" fill="#9dd798"/><rect x="350.15" y="236" width="13.4" height="4.3" fill="#c3b8dd"/><rect x="350.35" y="236.2" width="13" height="47.7" fill="none" stroke="#a89482" stroke-width="0.45"/><rect x="350.15" y="236" width="13.4" height="0.8" fill="#7f7896" opacity="0.75"/><rect x="350.15" y="239.8" width="13.4" height="1.1" fill="#6e7c82" opacity="0.5"/><rect x="350.15" y="244.7" width="13.4" height="1.1" fill="#8a7d6c" opacity="0.45"/><line x1="356.85" x2="356.85" y1="236.5" y2="247.7" stroke="#5a5a5a" stroke-width="0.35" opacity="0.35"/><text x="363.6" y="239.6" font-size="3.5" font-weight="bold" fill="#5e5a7e">a</text><text x="363.6" y="244.3" font-size="3.5" font-weight="bold" fill="#3e5e4a">a</text><text x="363.6" y="250" font-size="3.5" font-weight="bold" fill="#6a5040">a</text><path d="M269,206.9H365V284.1" fill="none" stroke="#8c8c8c" stroke-width="0.8"/><path d="M269,206.9V284.1H365" fill="none" stroke="#6a6a6a" stroke-width="0.8"/><line x1="267.9" x2="269" y1="284.1" y2="284.1" stroke="#6a6a6a" stroke-width="0.5"/><text x="267" y="285.2" font-size="3.2" text-anchor="end" fill="#3a3a3a" font-family="Liberation Serif">0</text><line x1="267.9" x2="269" y1="278.59" y2="278.59" stroke="#6a6a6a" stroke-width="0.5"/><line x1="267.9" x2="269" y1="273.07" y2="273.07" stroke="#6a6a6a" stroke-width="0.5"/><text x="267" y="274.17" font-size="3.2" text-anchor="end" fill="#3a3a3a" font-family="Liberation Serif">2</text><line x1="267.9" x2="269" y1="267.56" y2="267.56" stroke="#6a6a6a" stroke-width="0.5"/><line x1="267.9" x2="269" y1="262.04" y2="262.04" stroke="#6a6a6a" stroke-width="0.5"/><text x="267" y="263.14" font-size="3.2" text-anchor="end" fill="#3a3a3a" font-family="Liberation Serif">4</text><line x1="267.9" x2="269" y1="256.53" y2="256.53" stroke="#6a6a6a" stroke-width="0.5"/><line x1="267.9" x2="269" y1="251.01" y2="251.01" stroke="#6a6a6a" stroke-width="0.5"/><text x="267" y="252.11" font-size="3.2" text-anchor="end" fill="#3a3a3a" font-family="Liberation Serif">6</text><line x1="267.9" x2="269" y1="245.5" y2="245.5" stroke="#6a6a6a" stroke-width="0.5"/><line x1="267.9" x2="269" y1="239.99" y2="239.99" stroke="#6a6a6a" stroke-width="0.5"/><text x="267" y="241.09" font-size="3.2" text-anchor="end" fill="#3a3a3a" font-family="Liberation Serif">8</text><line x1="267.9" x2="269" y1="234.47" y2="234.47" stroke="#6a6a6a" stroke-width="0.5"/><line x1="267.9" x2="269" y1="228.96" y2="228.96" stroke="#6a6a6a" stroke-width="0.5"/><text x="267" y="230.06" font-size="3.2" text-anchor="end" fill="#3a3a3a" font-family="Liberation Serif">10</text><line x1="267.9" x2="269" y1="223.44" y2="223.44" stroke="#6a6a6a" stroke-width="0.5"/><line x1="267.9" x2="269" y1="217.93" y2="217.93" stroke="#6a6a6a" stroke-width="0.5"/><text x="267" y="219.03" font-size="3.2" text-anchor="end" fill="#3a3a3a" font-family="Liberation Serif">12</text><line x1="267.9" x2="269" y1="212.41" y2="212.41" stroke="#6a6a6a" stroke-width="0.5"/><line x1="267.9" x2="269" y1="206.9" y2="206.9" stroke="#6a6a6a" stroke-width="0.5"/><text x="267" y="208" font-size="3.2" text-anchor="end" fill="#3a3a3a" font-family="Liberation Serif">14</text><line x1="285.07" x2="285.07" y1="282.5" y2="284.1" stroke="#8a96a8" stroke-width="0.6"/><line x1="301.02" x2="301.02" y1="282.5" y2="284.1" stroke="#8a96a8" stroke-width="0.6"/><line x1="316.97" x2="316.97" y1="282.5" y2="284.1" stroke="#8a96a8" stroke-width="0.6"/><line x1="332.92" x2="332.92" y1="282.5" y2="284.1" stroke="#8a96a8" stroke-width="0.6"/><line x1="348.88" x2="348.88" y1="282.5" y2="284.1" stroke="#8a96a8" stroke-width="0.6"/><text x="277.1" y="288.7" font-size="3" text-anchor="middle" fill="#333" font-family="Liberation Serif">0.1:0.5</text><text x="293.05" y="288.7" font-size="3" text-anchor="middle" fill="#333" font-family="Liberation Serif">0.2:1</text><text x="309" y="288.7" font-size="3" text-anchor="middle" fill="#333" font-family="Liberation Serif">1:5</text><text x="324.95" y="288.7" font-size="3" text-anchor="middle" fill="#333" font-family="Liberation Serif">2:10</text><text x="340.9" y="288.7" font-size="3" text-anchor="middle" fill="#333" font-family="Liberation Serif">0:0</text><text x="356.85" y="288.7" font-size="3" text-anchor="middle" fill="#333" font-family="Liberation Serif">0:0.5</text><text x="317" y="295.3" font-size="3.9" text-anchor="middle" fill="#222" letter-spacing="0.12" font-family="Liberation Serif">NH<tspan font-size="2.5" dy="0.9">4</tspan><tspan font-size="2.5" dx="-1.25" dy="-2.3">+</tspan><tspan dy="1.4">:K</tspan><tspan font-size="2.5" dy="-1.4">+</tspan><tspan dy="1.4"> (mM)</tspan></text><text transform="translate(261.5,245.5) rotate(-90)" font-size="3.65" text-anchor="middle" fill="#3a3a3a" font-family="Liberation Serif">Fresh weight (g/plant)</text><text x="354" y="213.5" font-size="6.4" font-weight="bold" text-anchor="middle" fill="#111" stroke="#111" stroke-width="0.25">I</text></g>
<g><rect x="11.2" y="332.6" width="13.3" height="54.1" fill="#fac697"/><rect x="11.2" y="324.7" width="13.3" height="7.9" fill="#9dd798"/><rect x="11.2" y="321.8" width="13.3" height="2.9" fill="#c3b8dd"/><rect x="11.4" y="322" width="12.9" height="64.5" fill="none" stroke="#a89482" stroke-width="0.45"/><rect x="11.2" y="321.8" width="13.3" height="0.8" fill="#7f7896" opacity="0.75"/><rect x="11.2" y="324.2" width="13.3" height="1.1" fill="#6e7c82" opacity="0.5"/><rect x="11.2" y="332.1" width="13.3" height="1.1" fill="#8a7d6c" opacity="0.45"/><line x1="17.85" x2="17.85" y1="322.3" y2="335.1" stroke="#5a5a5a" stroke-width="0.35" opacity="0.35"/><text x="24.55" y="325.4" font-size="3.5" font-weight="bold" fill="#5e5a7e">a</text><text x="24.55" y="328.7" font-size="3.5" font-weight="bold" fill="#3e5e4a">a</text><text x="24.55" y="337.4" font-size="3.5" font-weight="bold" fill="#6a5040">a</text><rect x="27.35" y="328.1" width="13.3" height="58.6" fill="#fac697"/><rect x="27.35" y="321.3" width="13.3" height="6.8" fill="#9dd798"/><rect x="27.35" y="316.9" width="13.3" height="4.4" fill="#c3b8dd"/><rect x="27.55" y="317.1" width="12.9" height="69.4" fill="none" stroke="#a89482" stroke-width="0.45"/><rect x="27.35" y="316.9" width="13.3" height="0.8" fill="#7f7896" opacity="0.75"/><rect x="27.35" y="320.8" width="13.3" height="1.1" fill="#6e7c82" opacity="0.5"/><rect x="27.35" y="327.6" width="13.3" height="1.1" fill="#8a7d6c" opacity="0.45"/><line x1="34" x2="34" y1="317.4" y2="330.6" stroke="#5a5a5a" stroke-width="0.35" opacity="0.35"/><text x="40.7" y="320.5" font-size="3.5" font-weight="bold" fill="#5e5a7e">a</text><text x="40.7" y="325.3" font-size="3.5" font-weight="bold" fill="#3e5e4a">a</text><text x="40.7" y="332.9" font-size="3.5" font-weight="bold" fill="#6a5040">a</text><rect x="43.5" y="329.7" width="13.3" height="57" fill="#fac697"/><rect x="43.5" y="322" width="13.3" height="7.7" fill="#9dd798"/><rect x="43.5" y="316.6" width="13.3" height="5.4" fill="#c3b8dd"/><rect x="43.7" y="316.8" width="12.9" height="69.7" fill="none" stroke="#a89482" stroke-width="0.45"/><rect x="43.5" y="316.6" width="13.3" height="0.8" fill="#7f7896" opacity="0.75"/><rect x="43.5" y="321.5" width="13.3" height="1.1" fill="#6e7c82" opacity="0.5"/><rect x="43.5" y="329.2" width="13.3" height="1.1" fill="#8a7d6c" opacity="0.45"/><line x1="50.15" x2="50.15" y1="317.1" y2="332.2" stroke="#5a5a5a" stroke-width="0.35" opacity="0.35"/><text x="56.85" y="320.2" font-size="3.5" font-weight="bold" fill="#5e5a7e">a</text><text x="56.85" y="326" font-size="3.5" font-weight="bold" fill="#3e5e4a">a</text><text x="56.85" y="334.5" font-size="3.5" font-weight="bold" fill="#6a5040">a</text><rect x="59.65" y="332.5" width="13.3" height="54.2" fill="#fac697"/><rect x="59.65" y="325.4" width="13.3" height="7.1" fill="#9dd798"/><rect x="59.65" y="320.8" width="13.3" height="4.6" fill="#c3b8dd"/><rect x="59.85" y="321" width="12.9" height="65.5" fill="none" stroke="#a89482" stroke-width="0.45"/><rect x="59.65" y="320.8" width="13.3" height="0.8" fill="#7f7896" opacity="0.75"/><rect x="59.65" y="324.9" width="13.3" height="1.1" fill="#6e7c82" opacity="0.5"/><rect x="59.65" y="332" width="13.3" height="1.1" fill="#8a7d6c" opacity="0.45"/><line x1="66.3" x2="66.3" y1="321.3" y2="335" stroke="#5a5a5a" stroke-width="0.35" opacity="0.35"/><text x="73" y="324.4" font-size="3.5" font-weight="bold" fill="#5e5a7e">a</text><text x="73" y="329.4" font-size="3.5" font-weight="bold" fill="#3e5e4a">a</text><text x="73" y="337.3" font-size="3.5" font-weight="bold" fill="#6a5040">a</text><rect x="75.8" y="374.9" width="13.3" height="11.8" fill="#fac697"/><rect x="75.8" y="373.5" width="13.3" height="1.4" fill="#9dd798"/><rect x="75.8" y="372.2" width="13.3" height="1.3" fill="#c3b8dd"/><rect x="76" y="372.4" width="12.9" height="14.1" fill="none" stroke="#a89482" stroke-width="0.45"/><rect x="75.8" y="372.2" width="13.3" height="0.8" fill="#7f7896" opacity="0.75"/><rect x="75.8" y="373" width="13.3" height="1.1" fill="#6e7c82" opacity="0.5"/><rect x="75.8" y="374.4" width="13.3" height="1.1" fill="#8a7d6c" opacity="0.45"/><line x1="82.45" x2="82.45" y1="372.7" y2="377.4" stroke="#5a5a5a" stroke-width="0.35" opacity="0.35"/><text x="89.15" y="375.8" font-size="3.5" font-weight="bold" fill="#5e5a7e">a</text><text x="89.15" y="377.5" font-size="3.5" font-weight="bold" fill="#3e5e4a">a</text><text x="89.15" y="379.7" font-size="3.5" font-weight="bold" fill="#6a5040">a</text><rect x="91.95" y="341.5" width="13.3" height="45.2" fill="#fac697"/><rect x="91.95" y="335.6" width="13.3" height="5.9" fill="#9dd798"/><rect x="91.95" y="331" width="13.3" height="4.6" fill="#c3b8dd"/><rect x="92.15" y="331.2" width="12.9" height="55.3" fill="none" stroke="#a89482" stroke-width="0.45"/><rect x="91.95" y="331" width="13.3" height="0.8" fill="#7f7896" opacity="0.75"/><rect x="91.95" y="335.1" width="13.3" height="1.1" fill="#6e7c82" opacity="0.5"/><rect x="91.95" y="341" width="13.3" height="1.1" fill="#8a7d6c" opacity="0.45"/><line x1="98.6" x2="98.6" y1="331.5" y2="344" stroke="#5a5a5a" stroke-width="0.35" opacity="0.35"/><text x="105.3" y="334.6" font-size="3.5" font-weight="bold" fill="#5e5a7e">a</text><text x="105.3" y="339.6" font-size="3.5" font-weight="bold" fill="#3e5e4a">a</text><text x="105.3" y="346.3" font-size="3.5" font-weight="bold" fill="#6a5040">a</text><path d="M10.2,309.4H106.7V386.7" fill="none" stroke="#8c8c8c" stroke-width="0.8"/><path d="M10.2,309.4V386.7H106.7" fill="none" stroke="#6a6a6a" stroke-width="0.8"/><line x1="9.1" x2="10.2" y1="386.7" y2="386.7" stroke="#6a6a6a" stroke-width="0.5"/><text x="8.2" y="387.8" font-size="3.2" text-anchor="end" fill="#3a3a3a" font-family="Liberation Serif">0</text><line x1="9.1" x2="10.2" y1="380.26" y2="380.26" stroke="#6a6a6a" stroke-width="0.5"/><line x1="9.1" x2="10.2" y1="373.82" y2="373.82" stroke="#6a6a6a" stroke-width="0.5"/><text x="8.2" y="374.92" font-size="3.2" text-anchor="end" fill="#3a3a3a" font-family="Liberation Serif">2</text><line x1="9.1" x2="10.2" y1="367.38" y2="367.38" stroke="#6a6a6a" stroke-width="0.5"/><line x1="9.1" x2="10.2" y1="360.93" y2="360.93" stroke="#6a6a6a" stroke-width="0.5"/><text x="8.2" y="362.03" font-size="3.2" text-anchor="end" fill="#3a3a3a" font-family="Liberation Serif">4</text><line x1="9.1" x2="10.2" y1="354.49" y2="354.49" stroke="#6a6a6a" stroke-width="0.5"/><line x1="9.1" x2="10.2" y1="348.05" y2="348.05" stroke="#6a6a6a" stroke-width="0.5"/><text x="8.2" y="349.15" font-size="3.2" text-anchor="end" fill="#3a3a3a" font-family="Liberation Serif">6</text><line x1="9.1" x2="10.2" y1="341.61" y2="341.61" stroke="#6a6a6a" stroke-width="0.5"/><line x1="9.1" x2="10.2" y1="335.17" y2="335.17" stroke="#6a6a6a" stroke-width="0.5"/><text x="8.2" y="336.27" font-size="3.2" text-anchor="end" fill="#3a3a3a" font-family="Liberation Serif">8</text><line x1="9.1" x2="10.2" y1="328.72" y2="328.72" stroke="#6a6a6a" stroke-width="0.5"/><line x1="9.1" x2="10.2" y1="322.28" y2="322.28" stroke="#6a6a6a" stroke-width="0.5"/><text x="8.2" y="323.38" font-size="3.2" text-anchor="end" fill="#3a3a3a" font-family="Liberation Serif">10</text><line x1="9.1" x2="10.2" y1="315.84" y2="315.84" stroke="#6a6a6a" stroke-width="0.5"/><line x1="9.1" x2="10.2" y1="309.4" y2="309.4" stroke="#6a6a6a" stroke-width="0.5"/><text x="8.2" y="310.5" font-size="3.2" text-anchor="end" fill="#3a3a3a" font-family="Liberation Serif">12</text><line x1="25.92" x2="25.92" y1="385.1" y2="386.7" stroke="#8a96a8" stroke-width="0.6"/><line x1="42.08" x2="42.08" y1="385.1" y2="386.7" stroke="#8a96a8" stroke-width="0.6"/><line x1="58.22" x2="58.22" y1="385.1" y2="386.7" stroke="#8a96a8" stroke-width="0.6"/><line x1="74.38" x2="74.38" y1="385.1" y2="386.7" stroke="#8a96a8" stroke-width="0.6"/><line x1="90.53" x2="90.53" y1="385.1" y2="386.7" stroke="#8a96a8" stroke-width="0.6"/><text x="17.85" y="391.3" font-size="3" text-anchor="middle" fill="#333" font-family="Liberation Serif">0.1:1</text><text x="34" y="391.3" font-size="3" text-anchor="middle" fill="#333" font-family="Liberation Serif">0.2:2</text><text x="50.15" y="391.3" font-size="3" text-anchor="middle" fill="#333" font-family="Liberation Serif">0.5:5</text><text x="66.3" y="391.3" font-size="3" text-anchor="middle" fill="#333" font-family="Liberation Serif">1:10</text><text x="82.45" y="391.3" font-size="3" text-anchor="middle" fill="#333" font-family="Liberation Serif">0:0</text><text x="98.6" y="391.3" font-size="3" text-anchor="middle" fill="#333" font-family="Liberation Serif">0:0.5</text><text x="58.45" y="397.9" font-size="3.9" text-anchor="middle" fill="#222" letter-spacing="0.12" font-family="Liberation Serif">NH<tspan font-size="2.5" dy="0.9">4</tspan><tspan font-size="2.5" dx="-1.25" dy="-2.3">+</tspan><tspan dy="1.4">:K</tspan><tspan font-size="2.5" dy="-1.4">+</tspan><tspan dy="1.4"> (mM)</tspan></text><text transform="translate(2.7,348.05) rotate(-90)" font-size="3.65" text-anchor="middle" fill="#3a3a3a" font-family="Liberation Serif">Fresh weight (g/plant)</text><text x="101" y="316.9" font-size="6.4" font-weight="bold" text-anchor="middle" fill="#111" stroke="#111" stroke-width="0.25">J</text></g>
<g><rect x="141.5" y="339.3" width="13.4" height="47.4" fill="#fac697"/><rect x="141.5" y="331.5" width="13.4" height="7.8" fill="#9dd798"/><rect x="141.5" y="328.8" width="13.4" height="2.7" fill="#c3b8dd"/><rect x="141.7" y="329" width="13" height="57.5" fill="none" stroke="#a89482" stroke-width="0.45"/><rect x="141.5" y="328.8" width="13.4" height="0.8" fill="#7f7896" opacity="0.75"/><rect x="141.5" y="331" width="13.4" height="1.1" fill="#6e7c82" opacity="0.5"/><rect x="141.5" y="338.8" width="13.4" height="1.1" fill="#8a7d6c" opacity="0.45"/><line x1="148.2" x2="148.2" y1="329.3" y2="341.8" stroke="#5a5a5a" stroke-width="0.35" opacity="0.35"/><text x="154.95" y="332.4" font-size="3.5" font-weight="bold" fill="#5e5a7e">a</text><text x="154.95" y="335.5" font-size="3.5" font-weight="bold" fill="#3e5e4a">a</text><text x="154.95" y="344.1" font-size="3.5" font-weight="bold" fill="#6a5040">a</text><rect x="157.52" y="330.3" width="13.4" height="56.4" fill="#fac697"/><rect x="157.52" y="321.8" width="13.4" height="8.5" fill="#9dd798"/><rect x="157.52" y="316.2" width="13.4" height="5.6" fill="#c3b8dd"/><rect x="157.72" y="316.4" width="13" height="70.1" fill="none" stroke="#a89482" stroke-width="0.45"/><rect x="157.52" y="316.2" width="13.4" height="0.8" fill="#7f7896" opacity="0.75"/><rect x="157.52" y="321.3" width="13.4" height="1.1" fill="#6e7c82" opacity="0.5"/><rect x="157.52" y="329.8" width="13.4" height="1.1" fill="#8a7d6c" opacity="0.45"/><line x1="164.22" x2="164.22" y1="316.7" y2="332.8" stroke="#5a5a5a" stroke-width="0.35" opacity="0.35"/><text x="170.97" y="319.8" font-size="3.5" font-weight="bold" fill="#5e5a7e">a</text><text x="170.97" y="325.8" font-size="3.5" font-weight="bold" fill="#3e5e4a">a</text><text x="170.97" y="335.1" font-size="3.5" font-weight="bold" fill="#6a5040">a</text><rect x="173.54" y="334.2" width="13.4" height="52.5" fill="#fac697"/><rect x="173.54" y="328.1" width="13.4" height="6.1" fill="#9dd798"/><rect x="173.54" y="323.6" width="13.4" height="4.5" fill="#c3b8dd"/><rect x="173.74" y="323.8" width="13" height="62.7" fill="none" stroke="#a89482" stroke-width="0.45"/><rect x="173.54" y="323.6" width="13.4" height="0.8" fill="#7f7896" opacity="0.75"/><rect x="173.54" y="327.6" width="13.4" height="1.1" fill="#6e7c82" opacity="0.5"/><rect x="173.54" y="333.7" width="13.4" height="1.1" fill="#8a7d6c" opacity="0.45"/><line x1="180.24" x2="180.24" y1="324.1" y2="336.7" stroke="#5a5a5a" stroke-width="0.35" opacity="0.35"/><text x="186.99" y="327.2" font-size="3.5" font-weight="bold" fill="#5e5a7e">a</text><text x="186.99" y="332.1" font-size="3.5" font-weight="bold" fill="#3e5e4a">a</text><text x="186.99" y="339" font-size="3.5" font-weight="bold" fill="#6a5040">a</text><rect x="189.56" y="334.8" width="13.4" height="51.9" fill="#fac697"/><rect x="189.56" y="328.1" width="13.4" height="6.7" fill="#9dd798"/><rect x="189.56" y="323.1" width="13.4" height="5" fill="#c3b8dd"/><rect x="189.76" y="323.3" width="13" height="63.2" fill="none" stroke="#a89482" stroke-width="0.45"/><rect x="189.56" y="323.1" width="13.4" height="0.8" fill="#7f7896" opacity="0.75"/><rect x="189.56" y="327.6" width="13.4" height="1.1" fill="#6e7c82" opacity="0.5"/><rect x="189.56" y="334.3" width="13.4" height="1.1" fill="#8a7d6c" opacity="0.45"/><line x1="196.26" x2="196.26" y1="323.6" y2="337.3" stroke="#5a5a5a" stroke-width="0.35" opacity="0.35"/><text x="203.01" y="326.7" font-size="3.5" font-weight="bold" fill="#5e5a7e">a</text><text x="203.01" y="332.1" font-size="3.5" font-weight="bold" fill="#3e5e4a">a</text><text x="203.01" y="339.6" font-size="3.5" font-weight="bold" fill="#6a5040">a</text><rect x="205.58" y="374.8" width="13.4" height="11.9" fill="#fac697"/><rect x="205.58" y="373" width="13.4" height="1.8" fill="#9dd798"/><rect x="205.58" y="371.9" width="13.4" height="1.1" fill="#c3b8dd"/><rect x="205.78" y="372.1" width="13" height="14.4" fill="none" stroke="#a89482" stroke-width="0.45"/><rect x="205.58" y="371.9" width="13.4" height="0.8" fill="#7f7896" opacity="0.75"/><rect x="205.58" y="372.5" width="13.4" height="1.1" fill="#6e7c82" opacity="0.5"/><rect x="205.58" y="374.3" width="13.4" height="1.1" fill="#8a7d6c" opacity="0.45"/><line x1="212.28" x2="212.28" y1="372.4" y2="377.3" stroke="#5a5a5a" stroke-width="0.35" opacity="0.35"/><text x="219.03" y="375.5" font-size="3.5" font-weight="bold" fill="#5e5a7e">a</text><text x="219.03" y="377" font-size="3.5" font-weight="bold" fill="#3e5e4a">a</text><text x="219.03" y="379.6" font-size="3.5" font-weight="bold" fill="#6a5040">a</text><rect x="221.6" y="341.6" width="13.4" height="45.1" fill="#fac697"/><rect x="221.6" y="336" width="13.4" height="5.6" fill="#9dd798"/><rect x="221.6" y="331" width="13.4" height="5" fill="#c3b8dd"/><rect x="221.8" y="331.2" width="13" height="55.3" fill="none" stroke="#a89482" stroke-width="0.45"/><rect x="221.6" y="331" width="13.4" height="0.8" fill="#7f7896" opacity="0.75"/><rect x="221.6" y="335.5" width="13.4" height="1.1" fill="#6e7c82" opacity="0.5"/><rect x="221.6" y="341.1" width="13.4" height="1.1" fill="#8a7d6c" opacity="0.45"/><line x1="228.3" x2="228.3" y1="331.5" y2="344.1" stroke="#5a5a5a" stroke-width="0.35" opacity="0.35"/><text x="235.05" y="334.6" font-size="3.5" font-weight="bold" fill="#5e5a7e">a</text><text x="235.05" y="340" font-size="3.5" font-weight="bold" fill="#3e5e4a">a</text><text x="235.05" y="346.4" font-size="3.5" font-weight="bold" fill="#6a5040">a</text><path d="M139.9,309.4H236.5V386.7" fill="none" stroke="#8c8c8c" stroke-width="0.8"/><path d="M139.9,309.4V386.7H236.5" fill="none" stroke="#6a6a6a" stroke-width="0.8"/><line x1="138.8" x2="139.9" y1="386.7" y2="386.7" stroke="#6a6a6a" stroke-width="0.5"/><text x="137.9" y="387.8" font-size="3.2" text-anchor="end" fill="#3a3a3a" font-family="Liberation Serif">0</text><line x1="138.8" x2="139.9" y1="380.26" y2="380.26" stroke="#6a6a6a" stroke-width="0.5"/><line x1="138.8" x2="139.9" y1="373.82" y2="373.82" stroke="#6a6a6a" stroke-width="0.5"/><text x="137.9" y="374.92" font-size="3.2" text-anchor="end" fill="#3a3a3a" font-family="Liberation Serif">2</text><line x1="138.8" x2="139.9" y1="367.38" y2="367.38" stroke="#6a6a6a" stroke-width="0.5"/><line x1="138.8" x2="139.9" y1="360.93" y2="360.93" stroke="#6a6a6a" stroke-width="0.5"/><text x="137.9" y="362.03" font-size="3.2" text-anchor="end" fill="#3a3a3a" font-family="Liberation Serif">4</text><line x1="138.8" x2="139.9" y1="354.49" y2="354.49" stroke="#6a6a6a" stroke-width="0.5"/><line x1="138.8" x2="139.9" y1="348.05" y2="348.05" stroke="#6a6a6a" stroke-width="0.5"/><text x="137.9" y="349.15" font-size="3.2" text-anchor="end" fill="#3a3a3a" font-family="Liberation Serif">6</text><line x1="138.8" x2="139.9" y1="341.61" y2="341.61" stroke="#6a6a6a" stroke-width="0.5"/><line x1="138.8" x2="139.9" y1="335.17" y2="335.17" stroke="#6a6a6a" stroke-width="0.5"/><text x="137.9" y="336.27" font-size="3.2" text-anchor="end" fill="#3a3a3a" font-family="Liberation Serif">8</text><line x1="138.8" x2="139.9" y1="328.72" y2="328.72" stroke="#6a6a6a" stroke-width="0.5"/><line x1="138.8" x2="139.9" y1="322.28" y2="322.28" stroke="#6a6a6a" stroke-width="0.5"/><text x="137.9" y="323.38" font-size="3.2" text-anchor="end" fill="#3a3a3a" font-family="Liberation Serif">10</text><line x1="138.8" x2="139.9" y1="315.84" y2="315.84" stroke="#6a6a6a" stroke-width="0.5"/><line x1="138.8" x2="139.9" y1="309.4" y2="309.4" stroke="#6a6a6a" stroke-width="0.5"/><text x="137.9" y="310.5" font-size="3.2" text-anchor="end" fill="#3a3a3a" font-family="Liberation Serif">12</text><line x1="156.21" x2="156.21" y1="385.1" y2="386.7" stroke="#8a96a8" stroke-width="0.6"/><line x1="172.23" x2="172.23" y1="385.1" y2="386.7" stroke="#8a96a8" stroke-width="0.6"/><line x1="188.25" x2="188.25" y1="385.1" y2="386.7" stroke="#8a96a8" stroke-width="0.6"/><line x1="204.27" x2="204.27" y1="385.1" y2="386.7" stroke="#8a96a8" stroke-width="0.6"/><line x1="220.29" x2="220.29" y1="385.1" y2="386.7" stroke="#8a96a8" stroke-width="0.6"/><text x="148.2" y="391.3" font-size="3" text-anchor="middle" fill="#333" font-family="Liberation Serif">0.1:2</text><text x="164.22" y="391.3" font-size="3" text-anchor="middle" fill="#333" font-family="Liberation Serif">0.5:10</text><text x="180.24" y="391.3" font-size="3" text-anchor="middle" fill="#333" font-family="Liberation Serif">0.1:5</text><text x="196.26" y="391.3" font-size="3" text-anchor="middle" fill="#333" font-family="Liberation Serif">0.2:10</text><text x="212.28" y="391.3" font-size="3" text-anchor="middle" fill="#333" font-family="Liberation Serif">0:0</text><text x="228.3" y="391.3" font-size="3" text-anchor="middle" fill="#333" font-family="Liberation Serif">0:0.5</text><text x="188.2" y="397.9" font-size="3.9" text-anchor="middle" fill="#222" letter-spacing="0.12" font-family="Liberation Serif">NH<tspan font-size="2.5" dy="0.9">4</tspan><tspan font-size="2.5" dx="-1.25" dy="-2.3">+</tspan><tspan dy="1.4">:K</tspan><tspan font-size="2.5" dy="-1.4">+</tspan><tspan dy="1.4"> (mM)</tspan></text><text transform="translate(132.4,348.05) rotate(-90)" font-size="3.65" text-anchor="middle" fill="#4a4a78" font-family="Liberation Serif">Fresh weight (g/plant)</text><text x="227.6" y="316.9" font-size="6.4" font-weight="bold" text-anchor="middle" fill="#111" stroke="#111" stroke-width="0.25">K</text></g>
<g><rect x="269.5" y="329.2" width="7.2" height="57.5" fill="#fac697"/><rect x="269.5" y="321.3" width="7.2" height="7.9" fill="#9dd798"/><rect x="269.5" y="316.9" width="7.2" height="4.4" fill="#c3b8dd"/><rect x="269.7" y="317.1" width="6.8" height="69.4" fill="none" stroke="#a89482" stroke-width="0.45"/><rect x="269.5" y="316.9" width="7.2" height="0.8" fill="#7f7896" opacity="0.75"/><rect x="269.5" y="320.8" width="7.2" height="1.1" fill="#6e7c82" opacity="0.5"/><rect x="269.5" y="328.7" width="7.2" height="1.1" fill="#8a7d6c" opacity="0.45"/><line x1="273.1" x2="273.1" y1="317.4" y2="331.7" stroke="#5a5a5a" stroke-width="0.35" opacity="0.35"/><text x="276.75" y="320.5" font-size="3.5" font-weight="bold" fill="#5e5a7e">a</text><text x="276.75" y="325.3" font-size="3.5" font-weight="bold" fill="#3e5e4a">a</text><text x="276.75" y="334" font-size="3.5" font-weight="bold" fill="#6a5040">a</text><rect x="278.28" y="342" width="7.2" height="44.7" fill="#fac697"/><rect x="278.28" y="337.2" width="7.2" height="4.8" fill="#9dd798"/><rect x="278.28" y="333" width="7.2" height="4.2" fill="#c3b8dd"/><rect x="278.48" y="333.2" width="6.8" height="53.3" fill="none" stroke="#a89482" stroke-width="0.45"/><rect x="278.28" y="333" width="7.2" height="0.8" fill="#7f7896" opacity="0.75"/><rect x="278.28" y="336.7" width="7.2" height="1.1" fill="#6e7c82" opacity="0.5"/><rect x="278.28" y="341.5" width="7.2" height="1.1" fill="#8a7d6c" opacity="0.45"/><line x1="281.88" x2="281.88" y1="333.5" y2="344.5" stroke="#5a5a5a" stroke-width="0.35" opacity="0.35"/><text x="285.53" y="336.6" font-size="3.5" font-weight="bold" fill="#5e5a7e">a</text><text x="285.53" y="341.2" font-size="3.5" font-weight="bold" fill="#3e5e4a">a</text><text x="285.53" y="346.8" font-size="3.5" font-weight="bold" fill="#6a5040">a</text><rect x="287.06" y="347.4" width="7.2" height="39.3" fill="#fac697"/><rect x="287.06" y="342.7" width="7.2" height="4.7" fill="#9dd798"/><rect x="287.06" y="339.3" width="7.2" height="3.4" fill="#c3b8dd"/><rect x="287.26" y="339.5" width="6.8" height="47" fill="none" stroke="#a89482" stroke-width="0.45"/><rect x="287.06" y="339.3" width="7.2" height="0.8" fill="#7f7896" opacity="0.75"/><rect x="287.06" y="342.2" width="7.2" height="1.1" fill="#6e7c82" opacity="0.5"/><rect x="287.06" y="346.9" width="7.2" height="1.1" fill="#8a7d6c" opacity="0.45"/><line x1="290.66" x2="290.66" y1="339.8" y2="349.9" stroke="#5a5a5a" stroke-width="0.35" opacity="0.35"/><text x="294.31" y="342.9" font-size="3.5" font-weight="bold" fill="#5e5a7e">a</text><text x="294.31" y="346.7" font-size="3.5" font-weight="bold" fill="#3e5e4a">a</text><text x="294.31" y="352.2" font-size="3.5" font-weight="bold" fill="#6a5040">a</text><rect x="295.84" y="350.6" width="7.2" height="36.1" fill="#fac697"/><rect x="295.84" y="346.5" width="7.2" height="4.1" fill="#9dd798"/><rect x="295.84" y="343.5" width="7.2" height="3" fill="#c3b8dd"/><rect x="296.04" y="343.7" width="6.8" height="42.8" fill="none" stroke="#a89482" stroke-width="0.45"/><rect x="295.84" y="343.5" width="7.2" height="0.8" fill="#7f7896" opacity="0.75"/><rect x="295.84" y="346" width="7.2" height="1.1" fill="#6e7c82" opacity="0.5"/><rect x="295.84" y="350.1" width="7.2" height="1.1" fill="#8a7d6c" opacity="0.45"/><line x1="299.44" x2="299.44" y1="344" y2="353.1" stroke="#5a5a5a" stroke-width="0.35" opacity="0.35"/><text x="303.09" y="347.1" font-size="3.5" font-weight="bold" fill="#5e5a7e">a</text><text x="303.09" y="350.5" font-size="3.5" font-weight="bold" fill="#3e5e4a">a</text><text x="303.09" y="355.4" font-size="3.5" font-weight="bold" fill="#6a5040">a</text><rect x="304.62" y="360.3" width="7.2" height="26.4" fill="#fac697"/><rect x="304.62" y="357.4" width="7.2" height="2.9" fill="#9dd798"/><rect x="304.62" y="356.1" width="7.2" height="1.3" fill="#c3b8dd"/><rect x="304.82" y="356.3" width="6.8" height="30.2" fill="none" stroke="#a89482" stroke-width="0.45"/><rect x="304.62" y="356.1" width="7.2" height="0.8" fill="#7f7896" opacity="0.75"/><rect x="304.62" y="356.9" width="7.2" height="1.1" fill="#6e7c82" opacity="0.5"/><rect x="304.62" y="359.8" width="7.2" height="1.1" fill="#8a7d6c" opacity="0.45"/><line x1="308.22" x2="308.22" y1="356.6" y2="362.8" stroke="#5a5a5a" stroke-width="0.35" opacity="0.35"/><text x="311.87" y="359.7" font-size="3.5" font-weight="bold" fill="#5e5a7e">a</text><text x="311.87" y="361.4" font-size="3.5" font-weight="bold" fill="#3e5e4a">a</text><text x="311.87" y="365.1" font-size="3.5" font-weight="bold" fill="#6a5040">a</text><rect x="313.4" y="371.5" width="7.2" height="15.2" fill="#fac697"/><rect x="313.4" y="369.8" width="7.2" height="1.7" fill="#9dd798"/><rect x="313.4" y="368.2" width="7.2" height="1.6" fill="#c3b8dd"/><rect x="313.6" y="368.4" width="6.8" height="18.1" fill="none" stroke="#a89482" stroke-width="0.45"/><rect x="313.4" y="368.2" width="7.2" height="0.8" fill="#7f7896" opacity="0.75"/><rect x="313.4" y="369.3" width="7.2" height="1.1" fill="#6e7c82" opacity="0.5"/><rect x="313.4" y="371" width="7.2" height="1.1" fill="#8a7d6c" opacity="0.45"/><line x1="317" x2="317" y1="368.7" y2="374" stroke="#5a5a5a" stroke-width="0.35" opacity="0.35"/><text x="320.65" y="371.8" font-size="3.5" font-weight="bold" fill="#5e5a7e">a</text><text x="320.65" y="373.8" font-size="3.5" font-weight="bold" fill="#3e5e4a">a</text><text x="320.65" y="376.3" font-size="3.5" font-weight="bold" fill="#6a5040">a</text><rect x="322.18" y="327.4" width="7.2" height="59.3" fill="#fac697"/><rect x="322.18" y="320.7" width="7.2" height="6.7" fill="#9dd798"/><rect x="322.18" y="315.7" width="7.2" height="5" fill="#c3b8dd"/><rect x="322.38" y="315.9" width="6.8" height="70.6" fill="none" stroke="#a89482" stroke-width="0.45"/><rect x="322.18" y="315.7" width="7.2" height="0.8" fill="#7f7896" opacity="0.75"/><rect x="322.18" y="320.2" width="7.2" height="1.1" fill="#6e7c82" opacity="0.5"/><rect x="322.18" y="326.9" width="7.2" height="1.1" fill="#8a7d6c" opacity="0.45"/><line x1="325.78" x2="325.78" y1="316.2" y2="329.9" stroke="#5a5a5a" stroke-width="0.35" opacity="0.35"/><text x="329.43" y="319.3" font-size="3.5" font-weight="bold" fill="#5e5a7e">a</text><text x="329.43" y="324.7" font-size="3.5" font-weight="bold" fill="#3e5e4a">a</text><text x="329.43" y="332.2" font-size="3.5" font-weight="bold" fill="#6a5040">a</text><rect x="330.96" y="331.5" width="7.2" height="55.2" fill="#fac697"/><rect x="330.96" y="325.8" width="7.2" height="5.7" fill="#9dd798"/><rect x="330.96" y="321.3" width="7.2" height="4.5" fill="#c3b8dd"/><rect x="331.16" y="321.5" width="6.8" height="65" fill="none" stroke="#a89482" stroke-width="0.45"/><rect x="330.96" y="321.3" width="7.2" height="0.8" fill="#7f7896" opacity="0.75"/><rect x="330.96" y="325.3" width="7.2" height="1.1" fill="#6e7c82" opacity="0.5"/><rect x="330.96" y="331" width="7.2" height="1.1" fill="#8a7d6c" opacity="0.45"/><line x1="334.56" x2="334.56" y1="321.8" y2="334" stroke="#5a5a5a" stroke-width="0.35" opacity="0.35"/><text x="338.21" y="324.9" font-size="3.5" font-weight="bold" fill="#5e5a7e">a</text><text x="338.21" y="329.8" font-size="3.5" font-weight="bold" fill="#3e5e4a">a</text><text x="338.21" y="336.3" font-size="3.5" font-weight="bold" fill="#6a5040">a</text><rect x="339.74" y="341.5" width="7.2" height="45.2" fill="#fac697"/><rect x="339.74" y="334.9" width="7.2" height="6.6" fill="#9dd798"/><rect x="339.74" y="330.1" width="7.2" height="4.8" fill="#c3b8dd"/><rect x="339.94" y="330.3" width="6.8" height="56.2" fill="none" stroke="#a89482" stroke-width="0.45"/><rect x="339.74" y="330.1" width="7.2" height="0.8" fill="#7f7896" opacity="0.75"/><rect x="339.74" y="334.4" width="7.2" height="1.1" fill="#6e7c82" opacity="0.5"/><rect x="339.74" y="341" width="7.2" height="1.1" fill="#8a7d6c" opacity="0.45"/><line x1="343.34" x2="343.34" y1="330.6" y2="344" stroke="#5a5a5a" stroke-width="0.35" opacity="0.35"/><text x="346.99" y="333.7" font-size="3.5" font-weight="bold" fill="#5e5a7e">a</text><text x="346.99" y="338.9" font-size="3.5" font-weight="bold" fill="#3e5e4a">a</text><text x="346.99" y="346.3" font-size="3.5" font-weight="bold" fill="#6a5040">a</text><rect x="348.52" y="377.3" width="7.2" height="9.4" fill="#fac697"/><rect x="348.52" y="376.2" width="7.2" height="1.1" fill="#9dd798"/><rect x="348.52" y="375.1" width="7.2" height="1.1" fill="#c3b8dd"/><rect x="348.72" y="375.3" width="6.8" height="11.2" fill="none" stroke="#a89482" stroke-width="0.45"/><rect x="348.52" y="375.1" width="7.2" height="0.8" fill="#7f7896" opacity="0.75"/><rect x="348.52" y="375.7" width="7.2" height="1.1" fill="#6e7c82" opacity="0.5"/><rect x="348.52" y="376.8" width="7.2" height="1.1" fill="#8a7d6c" opacity="0.45"/><line x1="352.12" x2="352.12" y1="375.6" y2="379.8" stroke="#5a5a5a" stroke-width="0.35" opacity="0.35"/><text x="355.77" y="378.7" font-size="3.5" font-weight="bold" fill="#5e5a7e">a</text><text x="355.77" y="380.2" font-size="3.5" font-weight="bold" fill="#3e5e4a">a</text><text x="355.77" y="382.1" font-size="3.5" font-weight="bold" fill="#6a5040">a</text><rect x="357.3" y="350.8" width="7.2" height="35.9" fill="#fac697"/><rect x="357.3" y="345.8" width="7.2" height="5" fill="#9dd798"/><rect x="357.3" y="342" width="7.2" height="3.8" fill="#c3b8dd"/><rect x="357.5" y="342.2" width="6.8" height="44.3" fill="none" stroke="#a89482" stroke-width="0.45"/><rect x="357.3" y="342" width="7.2" height="0.8" fill="#7f7896" opacity="0.75"/><rect x="357.3" y="345.3" width="7.2" height="1.1" fill="#6e7c82" opacity="0.5"/><rect x="357.3" y="350.3" width="7.2" height="1.1" fill="#8a7d6c" opacity="0.45"/><line x1="360.9" x2="360.9" y1="342.5" y2="353.3" stroke="#5a5a5a" stroke-width="0.35" opacity="0.35"/><text x="364.55" y="345.6" font-size="3.5" font-weight="bold" fill="#5e5a7e">a</text><text x="364.55" y="349.8" font-size="3.5" font-weight="bold" fill="#3e5e4a">a</text><text x="364.55" y="355.6" font-size="3.5" font-weight="bold" fill="#6a5040">a</text><path d="M269,309.4H365.4V386.7" fill="none" stroke="#8c8c8c" stroke-width="0.8"/><path d="M269,309.4V386.7H365.4" fill="none" stroke="#6a6a6a" stroke-width="0.8"/><line x1="267.9" x2="269" y1="386.7" y2="386.7" stroke="#6a6a6a" stroke-width="0.5"/><text x="267" y="387.8" font-size="3.2" text-anchor="end" fill="#3a3a3a" font-family="Liberation Serif">0</text><line x1="267.9" x2="269" y1="381.55" y2="381.55" stroke="#6a6a6a" stroke-width="0.5"/><line x1="267.9" x2="269" y1="376.39" y2="376.39" stroke="#6a6a6a" stroke-width="0.5"/><text x="267" y="377.49" font-size="3.2" text-anchor="end" fill="#3a3a3a" font-family="Liberation Serif">2</text><line x1="267.9" x2="269" y1="371.24" y2="371.24" stroke="#6a6a6a" stroke-width="0.5"/><line x1="267.9" x2="269" y1="366.09" y2="366.09" stroke="#6a6a6a" stroke-width="0.5"/><text x="267" y="367.19" font-size="3.2" text-anchor="end" fill="#3a3a3a" font-family="Liberation Serif">4</text><line x1="267.9" x2="269" y1="360.93" y2="360.93" stroke="#6a6a6a" stroke-width="0.5"/><line x1="267.9" x2="269" y1="355.78" y2="355.78" stroke="#6a6a6a" stroke-width="0.5"/><text x="267" y="356.88" font-size="3.2" text-anchor="end" fill="#3a3a3a" font-family="Liberation Serif">6</text><line x1="267.9" x2="269" y1="350.63" y2="350.63" stroke="#6a6a6a" stroke-width="0.5"/><line x1="267.9" x2="269" y1="345.47" y2="345.47" stroke="#6a6a6a" stroke-width="0.5"/><text x="267" y="346.57" font-size="3.2" text-anchor="end" fill="#3a3a3a" font-family="Liberation Serif">8</text><line x1="267.9" x2="269" y1="340.32" y2="340.32" stroke="#6a6a6a" stroke-width="0.5"/><line x1="267.9" x2="269" y1="335.17" y2="335.17" stroke="#6a6a6a" stroke-width="0.5"/><text x="267" y="336.27" font-size="3.2" text-anchor="end" fill="#3a3a3a" font-family="Liberation Serif">10</text><line x1="267.9" x2="269" y1="330.01" y2="330.01" stroke="#6a6a6a" stroke-width="0.5"/><line x1="267.9" x2="269" y1="324.86" y2="324.86" stroke="#6a6a6a" stroke-width="0.5"/><text x="267" y="325.96" font-size="3.2" text-anchor="end" fill="#3a3a3a" font-family="Liberation Serif">12</text><line x1="267.9" x2="269" y1="319.71" y2="319.71" stroke="#6a6a6a" stroke-width="0.5"/><line x1="267.9" x2="269" y1="314.55" y2="314.55" stroke="#6a6a6a" stroke-width="0.5"/><text x="267" y="315.65" font-size="3.2" text-anchor="end" fill="#3a3a3a" font-family="Liberation Serif">14</text><line x1="267.9" x2="269" y1="309.4" y2="309.4" stroke="#6a6a6a" stroke-width="0.5"/><line x1="277.49" x2="277.49" y1="385.1" y2="386.7" stroke="#8a96a8" stroke-width="0.6"/><line x1="286.27" x2="286.27" y1="385.1" y2="386.7" stroke="#8a96a8" stroke-width="0.6"/><line x1="295.05" x2="295.05" y1="385.1" y2="386.7" stroke="#8a96a8" stroke-width="0.6"/><line x1="303.83" x2="303.83" y1="385.1" y2="386.7" stroke="#8a96a8" stroke-width="0.6"/><line x1="312.61" x2="312.61" y1="385.1" y2="386.7" stroke="#8a96a8" stroke-width="0.6"/><line x1="321.39" x2="321.39" y1="385.1" y2="386.7" stroke="#8a96a8" stroke-width="0.6"/><line x1="330.17" x2="330.17" y1="385.1" y2="386.7" stroke="#8a96a8" stroke-width="0.6"/><line x1="338.95" x2="338.95" y1="385.1" y2="386.7" stroke="#8a96a8" stroke-width="0.6"/><line x1="347.73" x2="347.73" y1="385.1" y2="386.7" stroke="#8a96a8" stroke-width="0.6"/><line x1="356.51" x2="356.51" y1="385.1" y2="386.7" stroke="#8a96a8" stroke-width="0.6"/><text x="273.1" y="391.3" font-size="3" text-anchor="middle" fill="#333" font-family="Liberation Serif">2:2</text><text x="281.88" y="391.3" font-size="3" text-anchor="middle" fill="#333" font-family="Liberation Serif">5:5</text><text x="290.66" y="391.3" font-size="3" text-anchor="middle" fill="#333" font-family="Liberation Serif">5:1</text><text x="299.44" y="391.3" font-size="3" text-anchor="middle" fill="#333" font-family="Liberation Serif">10:1</text><text x="308.22" y="391.3" font-size="3" text-anchor="middle" fill="#333" font-family="Liberation Serif">20:1</text><text x="317" y="391.3" font-size="3" text-anchor="middle" fill="#333" font-family="Liberation Serif">50:0.2</text><text x="325.78" y="391.3" font-size="3" text-anchor="middle" fill="#333" font-family="Liberation Serif">5:10</text><text x="334.56" y="391.3" font-size="3" text-anchor="middle" fill="#333" font-family="Liberation Serif">0.5:10</text><text x="343.34" y="391.3" font-size="3" text-anchor="middle" fill="#333" font-family="Liberation Serif">0.1:10</text><text x="352.12" y="391.3" font-size="3" text-anchor="middle" fill="#333" font-family="Liberation Serif">0:0</text><text x="360.9" y="391.3" font-size="3" text-anchor="middle" fill="#333" font-family="Liberation Serif">0:0.5</text><text x="315" y="397.9" font-size="3.9" text-anchor="middle" fill="#222" letter-spacing="0.12" font-family="Liberation Serif">NH<tspan font-size="2.5" dy="0.9">4</tspan><tspan font-size="2.5" dx="-1.25" dy="-2.3">+</tspan><tspan dy="1.4">:K</tspan><tspan font-size="2.5" dy="-1.4">+</tspan><tspan dy="1.4"> (mM)</tspan></text><text transform="translate(261.5,348.05) rotate(-90)" font-size="3.65" text-anchor="middle" fill="#4a5a85" font-family="Liberation Serif">Fresh weight (g/plant)</text><text x="357.7" y="315.8" font-size="6.4" font-weight="bold" text-anchor="middle" fill="#111" stroke="#111" stroke-width="0.25">L</text></g>
<rect x="10.3" y="1.4" width="9.6" height="4.3" fill="#c3b8dd"/><rect x="10.3" y="5.7" width="9.6" height="4.8" fill="#9dd798"/><rect x="10.3" y="10.5" width="9.6" height="5.3" fill="#fac697"/>
<rect x="10.3" y="1.4" width="9.6" height="4.3" fill="#8a88a0" opacity="0.2"/><rect x="10.3" y="5.7" width="9.6" height="4.8" fill="#8a9a8a" opacity="0.15"/>
<rect x="10.3" y="5.2" width="9.6" height="1" fill="#6e7c82" opacity="0.4"/><rect x="10.3" y="10" width="9.6" height="1" fill="#8a7d6c" opacity="0.35"/>
<rect x="10.35" y="1.45" width="9.5" height="14.3" fill="none" stroke="#8a8590" stroke-width="0.5"/>
<text x="21" y="5.4" font-size="3.5" fill="#333" font-family="Liberation Serif">Root</text><text x="21" y="9.7" font-size="3.5" fill="#333" font-family="Liberation Serif">Stem</text><text x="21" y="14.9" font-size="3.5" fill="#333" font-family="Liberation Serif">Leaf</text>
</svg></body></html>
